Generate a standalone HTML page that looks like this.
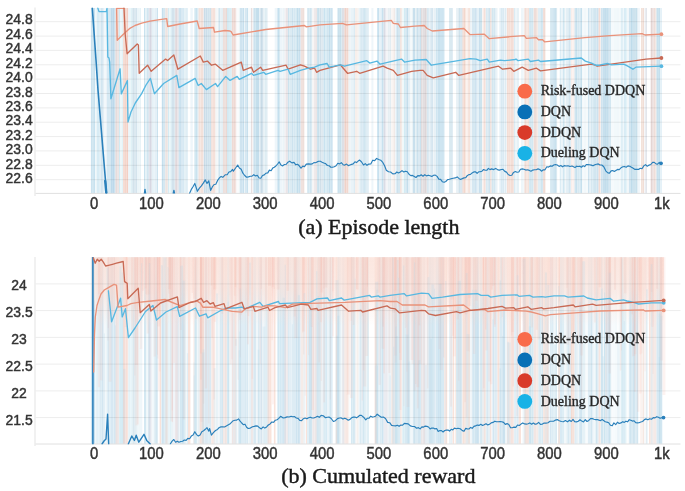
<!DOCTYPE html>
<html><head><meta charset="utf-8"><style>
html,body{margin:0;padding:0;background:#fff;}
body{width:685px;height:491px;overflow:hidden;font-family:"Liberation Sans",sans-serif;}
svg{display:block;filter:blur(0.6px);}
</style></head><body>
<svg width="685" height="491" viewBox="0 0 685 491"><defs><filter id="sb" x="0" y="0" width="1" height="1"><feGaussianBlur stdDeviation="0.6 0"/></filter><clipPath id="ct"><rect x="35" y="7.5" width="646" height="186"/></clipPath><linearGradient id="pg" x1="0" y1="0" x2="0" y2="1"><stop offset="0" stop-color="#fbe1d8" stop-opacity="0.8"/><stop offset="0.45" stop-color="#fbe1d8" stop-opacity="0.65"/><stop offset="1" stop-color="#fbdfd5" stop-opacity="0"/></linearGradient><clipPath id="cb"><rect x="35" y="257" width="646" height="187.5"/></clipPath></defs><g id="topstripes" filter="url(#sb)"><rect x="90.90" y="8" width="1.60" height="185.4" fill="#cbe3ef"/>
<rect x="92.50" y="8" width="1.20" height="185.4" fill="#c3dfed"/>
<rect x="93.70" y="8" width="1.30" height="185.4" fill="#c8e2ef"/>
<rect x="95.00" y="8" width="1.60" height="185.4" fill="#f1f8fb"/>
<rect x="96.60" y="8" width="2.40" height="185.4" fill="#d8ecf5"/>
<rect x="99.00" y="8" width="0.70" height="185.4" fill="#d1e9f4"/>
<rect x="99.70" y="8" width="1.20" height="185.4" fill="#e1eef6"/>
<rect x="100.90" y="8" width="1.20" height="185.4" fill="#d2e6f1"/>
<rect x="102.10" y="8" width="1.60" height="185.4" fill="#d3e6f1"/>
<rect x="103.80" y="8" width="1.60" height="185.4" fill="#f2f8fb"/>
<rect x="105.40" y="8" width="1.30" height="185.4" fill="#eff6fa"/>
<rect x="106.70" y="8" width="2.40" height="185.4" fill="#d6e9f3"/>
<rect x="109.10" y="8" width="1.90" height="185.4" fill="#d4e7f2"/>
<rect x="111.00" y="8" width="1.20" height="185.4" fill="#bedaeb"/>
<rect x="112.20" y="8" width="2.00" height="185.4" fill="#bcd9eb"/>
<rect x="114.20" y="8" width="1.30" height="185.4" fill="#c6dfee"/>
<rect x="115.50" y="8" width="1.60" height="185.4" fill="#e7dcdc"/>
<rect x="117.10" y="8" width="1.90" height="185.4" fill="#ece4e4"/>
<rect x="119.00" y="8" width="1.20" height="185.4" fill="#d2ebf3"/>
<rect x="120.20" y="8" width="2.40" height="185.4" fill="#ecf7fa"/>
<rect x="122.60" y="8" width="0.40" height="185.4" fill="#cae8f1"/>
<rect x="123.00" y="8" width="1.20" height="185.4" fill="#f6ddd5"/>
<rect x="124.20" y="8" width="2.40" height="185.4" fill="#f4d6cc"/>
<rect x="126.60" y="8" width="1.70" height="185.4" fill="#f3d0c5"/>
<rect x="128.30" y="8" width="2.40" height="185.4" fill="#ecf6fa"/>
<rect x="130.70" y="8" width="1.20" height="185.4" fill="#ddf0f6"/>
<rect x="131.90" y="8" width="0.50" height="185.4" fill="#d6edf4"/>
<rect x="132.40" y="8" width="2.00" height="185.4" fill="#d3e3ec"/>
<rect x="134.40" y="8" width="1.20" height="185.4" fill="#d1e2ec"/>
<rect x="135.60" y="8" width="1.40" height="185.4" fill="#d4e4ed"/>
<rect x="137.00" y="8" width="2.40" height="185.4" fill="#ecf5f9"/>
<rect x="139.40" y="8" width="1.60" height="185.4" fill="#e8f3f7"/>
<rect x="144.00" y="8" width="1.20" height="185.4" fill="#cae3ef"/>
<rect x="145.20" y="8" width="2.00" height="185.4" fill="#e4f1f7"/>
<rect x="147.20" y="8" width="1.50" height="185.4" fill="#cae3ef"/>
<rect x="148.70" y="8" width="1.20" height="185.4" fill="#e2e2ea"/>
<rect x="149.90" y="8" width="1.80" height="185.4" fill="#d7d7e2"/>
<rect x="151.70" y="8" width="1.20" height="185.4" fill="#e1eff6"/>
<rect x="152.90" y="8" width="2.00" height="185.4" fill="#e9f3f8"/>
<rect x="154.90" y="8" width="2.00" height="185.4" fill="#e4f0f7"/>
<rect x="156.90" y="8" width="1.10" height="185.4" fill="#cce3ef"/>
<rect x="161.80" y="8" width="1.20" height="185.4" fill="#c5dfed"/>
<rect x="163.00" y="8" width="2.30" height="185.4" fill="#d5e8f2"/>
<rect x="165.30" y="8" width="2.00" height="185.4" fill="#ede4e2"/>
<rect x="167.30" y="8" width="0.90" height="185.4" fill="#eee5e3"/>
<rect x="168.20" y="8" width="1.20" height="185.4" fill="#cee9f2"/>
<rect x="169.40" y="8" width="1.20" height="185.4" fill="#eff8fb"/>
<rect x="170.60" y="8" width="1.10" height="185.4" fill="#d4ecf4"/>
<rect x="171.70" y="8" width="2.40" height="185.4" fill="#d3e3ed"/>
<rect x="174.10" y="8" width="1.10" height="185.4" fill="#dbe8f0"/>
<rect x="175.20" y="8" width="2.40" height="185.4" fill="#e1d9dd"/>
<rect x="177.60" y="8" width="1.10" height="185.4" fill="#eae4e7"/>
<rect x="178.70" y="8" width="1.20" height="185.4" fill="#c8e1ef"/>
<rect x="179.90" y="8" width="1.60" height="185.4" fill="#cbe2ef"/>
<rect x="181.50" y="8" width="1.20" height="185.4" fill="#cee4f0"/>
<rect x="182.70" y="8" width="1.60" height="185.4" fill="#d7e9f3"/>
<rect x="184.30" y="8" width="0.20" height="185.4" fill="#d4e7f2"/>
<rect x="184.50" y="8" width="1.20" height="185.4" fill="#ddedf4"/>
<rect x="185.70" y="8" width="1.60" height="185.4" fill="#e0eef5"/>
<rect x="187.30" y="8" width="0.70" height="185.4" fill="#dfeef5"/>
<rect x="190.40" y="8" width="2.40" height="185.4" fill="#eef6fa"/>
<rect x="194.50" y="8" width="1.20" height="185.4" fill="#c6e1ee"/>
<rect x="195.70" y="8" width="1.60" height="185.4" fill="#cae3ef"/>
<rect x="197.30" y="8" width="1.20" height="185.4" fill="#d5e8f2"/>
<rect x="198.60" y="8" width="2.00" height="185.4" fill="#f4e3dd"/>
<rect x="200.60" y="8" width="2.40" height="185.4" fill="#f3e1da"/>
<rect x="203.00" y="8" width="0.80" height="185.4" fill="#f8edea"/>
<rect x="203.80" y="8" width="1.60" height="185.4" fill="#cadde9"/>
<rect x="205.40" y="8" width="1.90" height="185.4" fill="#ccdeea"/>
<rect x="207.30" y="8" width="2.00" height="185.4" fill="#d1e3ed"/>
<rect x="209.30" y="8" width="2.10" height="185.4" fill="#cfe2ec"/>
<rect x="211.40" y="8" width="1.20" height="185.4" fill="#f3d9d0"/>
<rect x="212.60" y="8" width="2.40" height="185.4" fill="#f5e1da"/>
<rect x="215.00" y="8" width="0.50" height="185.4" fill="#f3d9d0"/>
<rect x="215.50" y="8" width="2.40" height="185.4" fill="#f3f7f8"/>
<rect x="217.90" y="8" width="0.50" height="185.4" fill="#f7f9fa"/>
<rect x="218.40" y="8" width="2.00" height="185.4" fill="#d1e5ef"/>
<rect x="220.40" y="8" width="2.40" height="185.4" fill="#e6f1f6"/>
<rect x="222.80" y="8" width="0.30" height="185.4" fill="#c6dfeb"/>
<rect x="223.10" y="8" width="1.20" height="185.4" fill="#ecdcd9"/>
<rect x="224.30" y="8" width="1.20" height="185.4" fill="#ead9d5"/>
<rect x="225.50" y="8" width="1.70" height="185.4" fill="#ead9d5"/>
<rect x="227.20" y="8" width="1.60" height="185.4" fill="#cbe7f2"/>
<rect x="228.80" y="8" width="2.40" height="185.4" fill="#daeef6"/>
<rect x="231.20" y="8" width="0.60" height="185.4" fill="#d3ebf4"/>
<rect x="231.80" y="8" width="2.00" height="185.4" fill="#efdad5"/>
<rect x="233.80" y="8" width="1.20" height="185.4" fill="#eed9d4"/>
<rect x="235.00" y="8" width="1.50" height="185.4" fill="#f3e3df"/>
<rect x="236.50" y="8" width="2.40" height="185.4" fill="#fafcfd"/>
<rect x="238.90" y="8" width="1.10" height="185.4" fill="#edf6f8"/>
<rect x="240.00" y="8" width="2.40" height="185.4" fill="#cfe4f0"/>
<rect x="242.40" y="8" width="1.60" height="185.4" fill="#c7e0ee"/>
<rect x="244.00" y="8" width="1.20" height="185.4" fill="#ecf5f9"/>
<rect x="245.20" y="8" width="1.20" height="185.4" fill="#cfe4f0"/>
<rect x="246.40" y="8" width="1.60" height="185.4" fill="#c9e1ee"/>
<rect x="248.00" y="8" width="0.20" height="185.4" fill="#c4deed"/>
<rect x="248.20" y="8" width="2.00" height="185.4" fill="#f7fbfc"/>
<rect x="250.20" y="8" width="0.90" height="185.4" fill="#f5fafc"/>
<rect x="251.10" y="8" width="1.20" height="185.4" fill="#e6dcdc"/>
<rect x="252.30" y="8" width="1.10" height="185.4" fill="#f7f3f3"/>
<rect x="253.40" y="8" width="2.00" height="185.4" fill="#cde3ef"/>
<rect x="255.40" y="8" width="1.60" height="185.4" fill="#c5dfec"/>
<rect x="257.00" y="8" width="2.00" height="185.4" fill="#c4deec"/>
<rect x="259.00" y="8" width="1.40" height="185.4" fill="#e6f1f7"/>
<rect x="260.40" y="8" width="2.00" height="185.4" fill="#c8dbe7"/>
<rect x="262.40" y="8" width="1.00" height="185.4" fill="#c4d8e6"/>
<rect x="263.40" y="8" width="1.20" height="185.4" fill="#e6f1f6"/>
<rect x="264.60" y="8" width="1.60" height="185.4" fill="#deedf3"/>
<rect x="266.20" y="8" width="1.30" height="185.4" fill="#ddecf3"/>
<rect x="274.70" y="8" width="2.40" height="185.4" fill="#eef6fa"/>
<rect x="277.10" y="8" width="0.30" height="185.4" fill="#eef6fa"/>
<rect x="277.40" y="8" width="2.40" height="185.4" fill="#c5e0ee"/>
<rect x="279.80" y="8" width="2.40" height="185.4" fill="#edf5fa"/>
<rect x="282.20" y="8" width="1.60" height="185.4" fill="#f0f7fb"/>
<rect x="283.80" y="8" width="0.60" height="185.4" fill="#cde5f1"/>
<rect x="284.40" y="8" width="1.20" height="185.4" fill="#f4f2f3"/>
<rect x="285.60" y="8" width="2.30" height="185.4" fill="#eae5e8"/>
<rect x="287.90" y="8" width="1.60" height="185.4" fill="#cde3ee"/>
<rect x="289.50" y="8" width="1.90" height="185.4" fill="#dbebf3"/>
<rect x="291.40" y="8" width="2.00" height="185.4" fill="#cde3ef"/>
<rect x="293.40" y="8" width="2.00" height="185.4" fill="#d6e8f2"/>
<rect x="295.40" y="8" width="1.20" height="185.4" fill="#d1e6f1"/>
<rect x="296.60" y="8" width="2.00" height="185.4" fill="#c3deec"/>
<rect x="298.60" y="8" width="1.60" height="185.4" fill="#c7e0ee"/>
<rect x="300.20" y="8" width="0.50" height="185.4" fill="#c4deed"/>
<rect x="300.70" y="8" width="2.40" height="185.4" fill="#f0e1dd"/>
<rect x="303.10" y="8" width="1.20" height="185.4" fill="#eddcd6"/>
<rect x="307.20" y="8" width="2.40" height="185.4" fill="#d3e7f1"/>
<rect x="309.60" y="8" width="1.60" height="185.4" fill="#d0e5f0"/>
<rect x="311.20" y="8" width="1.20" height="185.4" fill="#d5e8f2"/>
<rect x="312.40" y="8" width="2.00" height="185.4" fill="#f8f5f5"/>
<rect x="314.40" y="8" width="1.20" height="185.4" fill="#e7dedf"/>
<rect x="315.60" y="8" width="1.50" height="185.4" fill="#ece5e6"/>
<rect x="317.10" y="8" width="2.40" height="185.4" fill="#c9e1ed"/>
<rect x="319.50" y="8" width="0.50" height="185.4" fill="#d2e6f0"/>
<rect x="320.00" y="8" width="1.60" height="185.4" fill="#d1e0ea"/>
<rect x="321.60" y="8" width="1.90" height="185.4" fill="#dfe9f0"/>
<rect x="323.50" y="8" width="2.00" height="185.4" fill="#c9e3f0"/>
<rect x="325.50" y="8" width="1.20" height="185.4" fill="#d8ebf4"/>
<rect x="326.70" y="8" width="0.30" height="185.4" fill="#c5e0ee"/>
<rect x="327.00" y="8" width="1.60" height="185.4" fill="#d3e6f1"/>
<rect x="328.60" y="8" width="2.00" height="185.4" fill="#c3deec"/>
<rect x="330.60" y="8" width="2.00" height="185.4" fill="#cde3f0"/>
<rect x="332.60" y="8" width="0.30" height="185.4" fill="#d2e6f1"/>
<rect x="337.50" y="8" width="2.40" height="185.4" fill="#cae1ed"/>
<rect x="339.90" y="8" width="1.20" height="185.4" fill="#c8e0ec"/>
<rect x="341.10" y="8" width="1.10" height="185.4" fill="#d9eaf2"/>
<rect x="342.20" y="8" width="1.60" height="185.4" fill="#d7d9e0"/>
<rect x="343.80" y="8" width="0.70" height="185.4" fill="#dddee4"/>
<rect x="344.50" y="8" width="2.00" height="185.4" fill="#f0d2c8"/>
<rect x="346.50" y="8" width="2.10" height="185.4" fill="#f2d8cf"/>
<rect x="348.60" y="8" width="2.00" height="185.4" fill="#eef4f7"/>
<rect x="350.60" y="8" width="0.40" height="185.4" fill="#e8f0f4"/>
<rect x="351.00" y="8" width="2.40" height="185.4" fill="#e9f3f8"/>
<rect x="353.40" y="8" width="1.60" height="185.4" fill="#dcecf4"/>
<rect x="355.00" y="8" width="2.40" height="185.4" fill="#f7efeb"/>
<rect x="357.40" y="8" width="1.20" height="185.4" fill="#f6ede9"/>
<rect x="358.60" y="8" width="1.60" height="185.4" fill="#e9f3f8"/>
<rect x="360.20" y="8" width="2.40" height="185.4" fill="#d9eaf3"/>
<rect x="362.60" y="8" width="1.20" height="185.4" fill="#cfe4f0"/>
<rect x="363.80" y="8" width="2.00" height="185.4" fill="#d1e6f1"/>
<rect x="365.80" y="8" width="0.90" height="185.4" fill="#d2e6f1"/>
<rect x="366.70" y="8" width="2.00" height="185.4" fill="#e1eef5"/>
<rect x="368.70" y="8" width="0.30" height="185.4" fill="#d9eaf3"/>
<rect x="371.40" y="8" width="2.00" height="185.4" fill="#eef6fa"/>
<rect x="377.20" y="8" width="2.00" height="185.4" fill="#c8e1ef"/>
<rect x="379.20" y="8" width="2.40" height="185.4" fill="#e7f2f8"/>
<rect x="381.60" y="8" width="1.60" height="185.4" fill="#c8e1ef"/>
<rect x="383.20" y="8" width="0.50" height="185.4" fill="#c5e0ee"/>
<rect x="383.70" y="8" width="2.00" height="185.4" fill="#dbdce5"/>
<rect x="385.70" y="8" width="2.00" height="185.4" fill="#f4f4f7"/>
<rect x="387.80" y="8" width="2.00" height="185.4" fill="#e7eff3"/>
<rect x="389.80" y="8" width="1.20" height="185.4" fill="#e3edf2"/>
<rect x="391.00" y="8" width="0.30" height="185.4" fill="#e5eef3"/>
<rect x="391.30" y="8" width="2.40" height="185.4" fill="#f9f4f2"/>
<rect x="393.70" y="8" width="1.10" height="185.4" fill="#efe3de"/>
<rect x="394.80" y="8" width="1.60" height="185.4" fill="#f0f6fa"/>
<rect x="396.40" y="8" width="2.40" height="185.4" fill="#cce2ee"/>
<rect x="398.80" y="8" width="1.20" height="185.4" fill="#d6e8f1"/>
<rect x="400.00" y="8" width="1.60" height="185.4" fill="#f2e4df"/>
<rect x="401.60" y="8" width="0.70" height="185.4" fill="#f0e0db"/>
<rect x="402.30" y="8" width="1.60" height="185.4" fill="#f0f9fb"/>
<rect x="403.90" y="8" width="1.40" height="185.4" fill="#d3ecf4"/>
<rect x="405.30" y="8" width="1.20" height="185.4" fill="#d2e6f0"/>
<rect x="406.50" y="8" width="2.00" height="185.4" fill="#c4deec"/>
<rect x="408.50" y="8" width="2.00" height="185.4" fill="#e6f1f7"/>
<rect x="410.50" y="8" width="1.20" height="185.4" fill="#f8fbfc"/>
<rect x="411.70" y="8" width="1.20" height="185.4" fill="#ebf3f7"/>
<rect x="412.90" y="8" width="2.40" height="185.4" fill="#c9e0ed"/>
<rect x="415.30" y="8" width="1.20" height="185.4" fill="#e6f1f6"/>
<rect x="416.50" y="8" width="1.60" height="185.4" fill="#cce2ee"/>
<rect x="418.10" y="8" width="1.60" height="185.4" fill="#d7e8f1"/>
<rect x="419.70" y="8" width="1.30" height="185.4" fill="#cce2ed"/>
<rect x="421.00" y="8" width="1.60" height="185.4" fill="#e2dcde"/>
<rect x="422.60" y="8" width="2.40" height="185.4" fill="#e3dee0"/>
<rect x="425.00" y="8" width="1.20" height="185.4" fill="#ddd6d8"/>
<rect x="426.20" y="8" width="0.70" height="185.4" fill="#e0dadc"/>
<rect x="426.90" y="8" width="2.00" height="185.4" fill="#d8e8f1"/>
<rect x="428.90" y="8" width="1.60" height="185.4" fill="#e9f2f7"/>
<rect x="430.50" y="8" width="1.20" height="185.4" fill="#d0e3ee"/>
<rect x="431.70" y="8" width="1.20" height="185.4" fill="#cee2ed"/>
<rect x="432.90" y="8" width="1.00" height="185.4" fill="#eff5f9"/>
<rect x="433.90" y="8" width="1.20" height="185.4" fill="#e8f1f6"/>
<rect x="435.10" y="8" width="0.50" height="185.4" fill="#f4f8fb"/>
<rect x="435.60" y="8" width="2.00" height="185.4" fill="#d0e6f1"/>
<rect x="437.60" y="8" width="2.40" height="185.4" fill="#c9e2ef"/>
<rect x="440.00" y="8" width="2.00" height="185.4" fill="#cee5f1"/>
<rect x="442.00" y="8" width="1.20" height="185.4" fill="#cde4f1"/>
<rect x="443.20" y="8" width="1.20" height="185.4" fill="#c8e2ef"/>
<rect x="449.10" y="8" width="1.20" height="185.4" fill="#d9e9f1"/>
<rect x="450.30" y="8" width="1.20" height="185.4" fill="#d1e4ee"/>
<rect x="451.50" y="8" width="1.10" height="185.4" fill="#cee2ed"/>
<rect x="456.10" y="8" width="2.40" height="185.4" fill="#e8f1f6"/>
<rect x="458.50" y="8" width="1.60" height="185.4" fill="#cfe2ec"/>
<rect x="460.10" y="8" width="1.60" height="185.4" fill="#d7e6ef"/>
<rect x="461.70" y="8" width="0.80" height="185.4" fill="#c5dbe7"/>
<rect x="462.50" y="8" width="1.20" height="185.4" fill="#f4dad0"/>
<rect x="463.70" y="8" width="2.00" height="185.4" fill="#f3d7cc"/>
<rect x="465.70" y="8" width="2.00" height="185.4" fill="#fbf3f0"/>
<rect x="467.70" y="8" width="1.20" height="185.4" fill="#f6e3db"/>
<rect x="468.90" y="8" width="1.20" height="185.4" fill="#f6e3db"/>
<rect x="470.10" y="8" width="1.60" height="185.4" fill="#eaf1f5"/>
<rect x="471.70" y="8" width="0.70" height="185.4" fill="#eff5f8"/>
<rect x="472.40" y="8" width="1.20" height="185.4" fill="#bfdbeb"/>
<rect x="473.60" y="8" width="1.20" height="185.4" fill="#d1e5f1"/>
<rect x="474.80" y="8" width="2.00" height="185.4" fill="#cee3f0"/>
<rect x="476.80" y="8" width="2.40" height="185.4" fill="#e5f1f7"/>
<rect x="479.20" y="8" width="0.80" height="185.4" fill="#bddaea"/>
<rect x="480.00" y="8" width="2.00" height="185.4" fill="#cee4ee"/>
<rect x="482.00" y="8" width="0.30" height="185.4" fill="#cce3ee"/>
<rect x="482.30" y="8" width="1.20" height="185.4" fill="#fbf4f1"/>
<rect x="483.50" y="8" width="2.00" height="185.4" fill="#f5e0d9"/>
<rect x="485.50" y="8" width="0.30" height="185.4" fill="#f6e3dd"/>
<rect x="485.80" y="8" width="2.00" height="185.4" fill="#d9eaf2"/>
<rect x="487.80" y="8" width="1.20" height="185.4" fill="#d9e9f2"/>
<rect x="489.00" y="8" width="0.90" height="185.4" fill="#c6dfec"/>
<rect x="489.90" y="8" width="1.80" height="185.4" fill="#f3e4df"/>
<rect x="491.70" y="8" width="2.00" height="185.4" fill="#d3e7f0"/>
<rect x="493.70" y="8" width="2.00" height="185.4" fill="#d4e7f1"/>
<rect x="495.70" y="8" width="1.80" height="185.4" fill="#eaf3f8"/>
<rect x="499.10" y="8" width="1.20" height="185.4" fill="#eef6fa"/>
<rect x="500.40" y="8" width="2.40" height="185.4" fill="#d9eaf3"/>
<rect x="502.80" y="8" width="1.20" height="185.4" fill="#daeaf3"/>
<rect x="504.00" y="8" width="1.20" height="185.4" fill="#ecf4f9"/>
<rect x="505.20" y="8" width="1.20" height="185.4" fill="#d7e9f2"/>
<rect x="506.40" y="8" width="0.50" height="185.4" fill="#eff6fa"/>
<rect x="506.90" y="8" width="1.20" height="185.4" fill="#f4ded6"/>
<rect x="508.10" y="8" width="2.40" height="185.4" fill="#f5e0d8"/>
<rect x="510.50" y="8" width="1.60" height="185.4" fill="#f4ded6"/>
<rect x="512.10" y="8" width="1.60" height="185.4" fill="#f3dbd3"/>
<rect x="513.90" y="8" width="1.60" height="185.4" fill="#dcecf4"/>
<rect x="515.50" y="8" width="2.00" height="185.4" fill="#eef6fa"/>
<rect x="517.50" y="8" width="1.10" height="185.4" fill="#d7e9f2"/>
<rect x="521.00" y="8" width="2.40" height="185.4" fill="#eef6fa"/>
<rect x="523.40" y="8" width="1.00" height="185.4" fill="#eef6fa"/>
<rect x="524.40" y="8" width="2.00" height="185.4" fill="#f2ded7"/>
<rect x="526.40" y="8" width="1.20" height="185.4" fill="#f3e0d9"/>
<rect x="527.60" y="8" width="1.50" height="185.4" fill="#f4e3dc"/>
<rect x="529.10" y="8" width="2.00" height="185.4" fill="#d3e7f1"/>
<rect x="531.10" y="8" width="2.40" height="185.4" fill="#d4e8f2"/>
<rect x="533.70" y="8" width="2.40" height="185.4" fill="#efddd8"/>
<rect x="536.10" y="8" width="1.60" height="185.4" fill="#f0e1dc"/>
<rect x="537.70" y="8" width="0.70" height="185.4" fill="#f8f1ef"/>
<rect x="538.40" y="8" width="1.20" height="185.4" fill="#d0e5f0"/>
<rect x="539.60" y="8" width="1.20" height="185.4" fill="#daebf4"/>
<rect x="540.80" y="8" width="1.20" height="185.4" fill="#d0e6f0"/>
<rect x="542.00" y="8" width="1.10" height="185.4" fill="#d5e8f2"/>
<rect x="543.10" y="8" width="2.00" height="185.4" fill="#f1dcd5"/>
<rect x="545.10" y="8" width="0.30" height="185.4" fill="#f0dcd4"/>
<rect x="550.10" y="8" width="2.00" height="185.4" fill="#d6e9f2"/>
<rect x="552.10" y="8" width="2.00" height="185.4" fill="#d2e6f1"/>
<rect x="554.10" y="8" width="2.40" height="185.4" fill="#c9e1ee"/>
<rect x="556.50" y="8" width="0.60" height="185.4" fill="#d1e6f0"/>
<rect x="559.50" y="8" width="0.50" height="185.4" fill="#eef6fa"/>
<rect x="560.00" y="8" width="1.60" height="185.4" fill="#dcedf5"/>
<rect x="561.60" y="8" width="1.20" height="185.4" fill="#eff7fa"/>
<rect x="562.80" y="8" width="1.20" height="185.4" fill="#d1e7f2"/>
<rect x="564.00" y="8" width="0.70" height="185.4" fill="#cbe4f0"/>
<rect x="564.70" y="8" width="1.20" height="185.4" fill="#f2f7f9"/>
<rect x="565.90" y="8" width="0.50" height="185.4" fill="#eef5f8"/>
<rect x="566.40" y="8" width="1.20" height="185.4" fill="#d7e8f2"/>
<rect x="567.60" y="8" width="1.20" height="185.4" fill="#dcebf3"/>
<rect x="568.80" y="8" width="1.60" height="185.4" fill="#d2e5f0"/>
<rect x="570.40" y="8" width="0.70" height="185.4" fill="#d8e9f2"/>
<rect x="571.10" y="8" width="1.20" height="185.4" fill="#f9ede9"/>
<rect x="572.30" y="8" width="2.30" height="185.4" fill="#fbf1ee"/>
<rect x="574.60" y="8" width="1.20" height="185.4" fill="#c7e0ee"/>
<rect x="575.80" y="8" width="1.60" height="185.4" fill="#c8e1ee"/>
<rect x="577.40" y="8" width="2.00" height="185.4" fill="#d7e9f2"/>
<rect x="579.40" y="8" width="1.60" height="185.4" fill="#d5e8f2"/>
<rect x="581.00" y="8" width="1.20" height="185.4" fill="#c6e0ed"/>
<rect x="582.20" y="8" width="2.00" height="185.4" fill="#f6fafc"/>
<rect x="584.20" y="8" width="2.00" height="185.4" fill="#f1f8fb"/>
<rect x="586.20" y="8" width="1.80" height="185.4" fill="#f5fafc"/>
<rect x="588.00" y="8" width="1.60" height="185.4" fill="#cee3ef"/>
<rect x="589.60" y="8" width="1.60" height="185.4" fill="#e6f1f7"/>
<rect x="591.20" y="8" width="1.20" height="185.4" fill="#cee4ef"/>
<rect x="592.40" y="8" width="1.60" height="185.4" fill="#d7e9f2"/>
<rect x="594.00" y="8" width="2.40" height="185.4" fill="#d2e6f0"/>
<rect x="596.40" y="8" width="1.60" height="185.4" fill="#cee3ef"/>
<rect x="598.00" y="8" width="0.60" height="185.4" fill="#cae1ee"/>
<rect x="598.60" y="8" width="1.60" height="185.4" fill="#f4dcd5"/>
<rect x="600.20" y="8" width="0.70" height="185.4" fill="#f9ede9"/>
<rect x="600.90" y="8" width="1.60" height="185.4" fill="#cfe4f0"/>
<rect x="602.50" y="8" width="1.60" height="185.4" fill="#c7e0ee"/>
<rect x="604.10" y="8" width="2.00" height="185.4" fill="#c3ddec"/>
<rect x="606.10" y="8" width="2.00" height="185.4" fill="#c5dfed"/>
<rect x="608.10" y="8" width="1.20" height="185.4" fill="#cde3ef"/>
<rect x="609.30" y="8" width="1.60" height="185.4" fill="#cde3ef"/>
<rect x="610.90" y="8" width="0.50" height="185.4" fill="#e3eff6"/>
<rect x="611.40" y="8" width="2.00" height="185.4" fill="#f5fafc"/>
<rect x="613.40" y="8" width="1.60" height="185.4" fill="#f2f9fb"/>
<rect x="615.00" y="8" width="2.00" height="185.4" fill="#f2f9fb"/>
<rect x="617.00" y="8" width="2.40" height="185.4" fill="#f1f8fb"/>
<rect x="619.40" y="8" width="1.30" height="185.4" fill="#f2f8fb"/>
<rect x="620.70" y="8" width="0.80" height="185.4" fill="#e9f3f8"/>
<rect x="621.50" y="8" width="1.20" height="185.4" fill="#cae6f1"/>
<rect x="622.70" y="8" width="1.20" height="185.4" fill="#f0f8fb"/>
<rect x="623.90" y="8" width="2.00" height="185.4" fill="#d8ecf5"/>
<rect x="625.90" y="8" width="0.70" height="185.4" fill="#c6e4f0"/>
<rect x="626.60" y="8" width="1.20" height="185.4" fill="#f1f7f9"/>
<rect x="627.80" y="8" width="1.20" height="185.4" fill="#f0f6f9"/>
<rect x="629.10" y="8" width="1.60" height="185.4" fill="#cbe2ef"/>
<rect x="630.70" y="8" width="2.10" height="185.4" fill="#bfdceb"/>
<rect x="632.80" y="8" width="2.40" height="185.4" fill="#cee3ee"/>
<rect x="635.20" y="8" width="2.40" height="185.4" fill="#c8e0ec"/>
<rect x="637.60" y="8" width="0.60" height="185.4" fill="#eaf3f8"/>
<rect x="638.20" y="8" width="1.60" height="185.4" fill="#eef6fa"/>
<rect x="641.20" y="8" width="1.20" height="185.4" fill="#f0dbd2"/>
<rect x="642.40" y="8" width="1.70" height="185.4" fill="#f1ded6"/>
<rect x="644.10" y="8" width="1.20" height="185.4" fill="#f6f7f9"/>
<rect x="645.30" y="8" width="1.70" height="185.4" fill="#e3e6ec"/>
<rect x="650.70" y="8" width="1.60" height="185.4" fill="#e4d5d3"/>
<rect x="652.30" y="8" width="1.30" height="185.4" fill="#e8dbda"/>
<rect x="653.60" y="8" width="2.00" height="185.4" fill="#efded9"/>
<rect x="655.60" y="8" width="0.90" height="185.4" fill="#f2e5e1"/>
<rect x="656.50" y="8" width="2.40" height="185.4" fill="#c8e1ee"/>
<rect x="658.90" y="8" width="1.60" height="185.4" fill="#c5dfed"/>
<rect x="660.50" y="8" width="1.20" height="185.4" fill="#edf5f9"/>
<rect x="661.70" y="8" width="0.30" height="185.4" fill="#c7e1ee"/></g><line x1="35" y1="21.7" x2="680.5" y2="21.7" stroke="rgba(0,0,0,0.075)" stroke-width="1"/>
<line x1="35" y1="36.1" x2="680.5" y2="36.1" stroke="rgba(0,0,0,0.075)" stroke-width="1"/>
<line x1="35" y1="50.4" x2="680.5" y2="50.4" stroke="rgba(0,0,0,0.075)" stroke-width="1"/>
<line x1="35" y1="64.8" x2="680.5" y2="64.8" stroke="rgba(0,0,0,0.075)" stroke-width="1"/>
<line x1="35" y1="79.1" x2="680.5" y2="79.1" stroke="rgba(0,0,0,0.075)" stroke-width="1"/>
<line x1="35" y1="93.5" x2="680.5" y2="93.5" stroke="rgba(0,0,0,0.075)" stroke-width="1"/>
<line x1="35" y1="107.9" x2="680.5" y2="107.9" stroke="rgba(0,0,0,0.075)" stroke-width="1"/>
<line x1="35" y1="122.2" x2="680.5" y2="122.2" stroke="rgba(0,0,0,0.075)" stroke-width="1"/>
<line x1="35" y1="136.6" x2="680.5" y2="136.6" stroke="rgba(0,0,0,0.075)" stroke-width="1"/>
<line x1="35" y1="150.9" x2="680.5" y2="150.9" stroke="rgba(0,0,0,0.075)" stroke-width="1"/>
<line x1="35" y1="165.3" x2="680.5" y2="165.3" stroke="rgba(0,0,0,0.075)" stroke-width="1"/>
<line x1="35" y1="179.7" x2="680.5" y2="179.7" stroke="rgba(0,0,0,0.075)" stroke-width="1"/><line x1="35" y1="193.4" x2="680.5" y2="193.4" stroke="#e0e0e0" stroke-width="1"/><line x1="35" y1="7.5" x2="35" y2="196" stroke="#ececec" stroke-width="1.5"/><g clip-path="url(#ct)"><polyline points="124.0,8.4 116.6,8.4 117.2,40.3 124.7,33.0 129.4,28.7 135.0,25.5 141.7,23.2 150.0,21.2 158.0,19.8 166.7,18.7 167.7,26.5 180.0,24.0 197.2,21.0 199.2,28.5 213.5,27.5 214.5,32.2 225.0,30.5 230.0,31.0 231.1,31.6 233.1,35.0 265.7,29.5 304.4,25.5 306.4,26.9 320.0,24.8 342.4,23.4 346.5,24.8 391.3,20.4 393.3,23.4 398.4,24.0 400.4,27.5 415.0,26.1 424.2,25.5 427.2,28.5 432.3,31.0 463.9,28.5 470.0,34.6 484.3,34.2 489.3,38.7 510.0,36.7 524.3,35.6 526.3,38.3 536.5,37.7 538.5,39.7 542.6,39.7 544.6,41.8 585.0,37.7 610.0,35.6 642.0,33.6 645.0,35.0 661.4,34.2" fill="none" stroke="#e9927a" stroke-width="1.35" stroke-linejoin="round" stroke-linecap="round" opacity="1"/><polyline points="124.0,8.0 125.2,34.2 127.1,53.8 137.2,44.0 138.4,45.0 139.2,73.3 147.6,65.2 151.2,71.3 165.6,59.1 167.6,60.5 173.8,55.0 177.9,69.2 200.3,56.0 203.3,62.1 207.4,61.1 211.5,65.2 215.5,64.2 222.7,70.3 230.0,67.2 241.3,62.1 243.3,70.3 251.5,67.2 253.5,72.3 260.6,67.2 262.7,70.3 286.1,65.2 288.1,69.2 300.4,64.8 304.4,66.2 310.5,69.2 314.6,68.2 316.6,72.3 320.0,70.3 340.4,64.8 342.4,67.2 347.5,73.3 356.7,71.3 359.7,73.3 383.1,66.2 387.2,68.2 393.3,70.3 397.4,75.4 411.6,71.3 420.0,70.3 423.1,70.3 427.2,75.4 433.3,77.8 455.7,72.3 458.8,75.4 498.5,66.2 502.6,69.2 510.7,68.2 513.8,71.3 522.2,67.2 528.3,70.3 536.5,68.2 540.5,70.9 591.5,64.2 595.0,65.2 597.2,66.2 646.1,59.1 661.4,58.0" fill="none" stroke="#c86a55" stroke-width="1.35" stroke-linejoin="round" stroke-linecap="round" opacity="1"/><polyline points="97.8,8.0 99.0,11.6 106.3,11.6 107.0,8.5 107.8,57.0 109.0,58.0 109.7,62.1 110.9,98.8 120.1,68.8 121.3,93.9 127.4,80.5 128.0,122.0 131.0,112.0 135.3,103.0 141.5,93.9 146.0,85.0 150.4,78.4 154.4,93.7 163.6,83.5 176.8,75.4 178.9,87.6 195.2,78.4 198.2,85.5 201.3,83.5 206.4,89.6 215.5,83.5 217.6,86.6 225.7,76.4 230.1,80.4 237.2,76.4 239.3,79.4 251.5,73.3 253.5,75.4 263.7,72.3 265.7,74.3 278.0,70.3 280.0,71.3 288.1,69.2 290.2,74.3 300.4,70.3 308.5,68.2 314.6,67.2 320.0,64.8 327.1,63.5 329.2,67.2 340.4,64.8 344.4,66.2 366.8,60.7 369.9,63.1 377.0,61.1 380.1,64.2 401.5,59.1 404.5,62.1 415.0,60.1 426.2,59.5 431.3,65.2 470.0,58.7 476.1,59.1 480.2,60.7 487.3,59.1 489.3,62.1 500.5,60.1 504.6,60.7 515.0,59.5 516.1,59.1 518.1,60.7 528.3,59.1 530.4,61.5 538.5,60.1 540.5,61.5 581.3,58.0 585.3,61.1 591.5,63.1 595.5,65.2 599.3,65.2 607.4,63.5 611.5,64.8 623.7,64.2 627.8,66.2 632.9,69.2 635.9,67.2 661.4,66.2" fill="none" stroke="#58b8e1" stroke-width="1.35" stroke-linejoin="round" stroke-linecap="round" opacity="1"/><polyline points="92.3,8.0 96.0,60.0 98.0,90.0 105.6,182.0 106.4,193.0" fill="none" stroke="#2a80bb" stroke-width="1.6" stroke-linejoin="round" stroke-linecap="round" opacity="1"/><polyline points="105.2,181.0 106.3,193.0" fill="none" stroke="#2a80bb" stroke-width="2.4" stroke-linejoin="round" stroke-linecap="round" opacity="1"/><polyline points="144.4,193.5 145.0,189.5 145.6,193.5" fill="none" stroke="#2a80bb" stroke-width="1.4" stroke-linejoin="round" stroke-linecap="round" opacity="1"/><polyline points="173.3,193.5 173.9,190.5 174.5,193.5" fill="none" stroke="#2a80bb" stroke-width="1.4" stroke-linejoin="round" stroke-linecap="round" opacity="1"/><polyline points="189.5,193.4 191.3,189.4 193.0,186.8 194.8,183.4 197.4,191.3 199.4,188.1 201.4,185.9 203.3,183.1 205.3,179.9 207.0,183.4 208.8,180.8 210.6,190.4 212.3,186.9 214.1,184.5 215.8,184.3 217.6,180.4 219.3,178.0 221.1,176.4 222.8,177.3 225.4,174.7 227.2,174.7 228.9,172.0 230.7,171.6 232.5,169.4 233.4,171.2 235.6,168.0 237.7,165.0 239.4,168.0 241.2,169.3 242.9,173.2 244.7,175.5 246.6,177.2 248.5,176.9 250.3,176.2 252.0,176.1 253.8,174.7 255.6,176.0 257.3,175.3 259.1,178.0 260.8,178.2 262.5,175.5 264.3,174.9 266.0,173.2 267.8,172.9 269.4,170.1 271.1,170.7 272.7,168.1 274.3,167.2 275.9,166.0 277.6,164.0 279.2,161.9 280.9,165.0 282.7,165.9 284.4,164.5 286.2,164.3 287.9,162.2 289.7,161.2 291.9,162.9 294.0,162.4 295.8,164.8 297.5,164.3 299.2,165.8 301.0,168.2 302.8,166.1 304.5,166.7 306.3,164.1 308.5,163.9 310.7,164.1 312.3,163.9 313.9,162.6 315.5,162.7 317.1,161.9 318.7,161.3 320.3,161.2 322.1,162.2 323.8,163.0 325.6,163.6 327.4,165.5 329.1,165.8 330.9,167.3 332.6,167.1 334.3,166.8 336.1,165.8 337.8,163.3 339.6,163.9 341.3,162.7 343.1,164.7 344.8,165.1 346.6,164.1 348.3,165.6 350.0,165.0 351.6,164.4 353.2,163.9 354.9,161.8 356.5,162.6 358.1,161.1 359.7,160.1 361.6,162.0 363.5,165.0 365.3,163.6 367.0,165.3 368.8,164.1 370.8,163.9 372.7,160.2 374.7,160.6 376.6,158.4 378.7,159.5 380.7,160.2 382.8,162.4 384.6,165.8 386.3,170.3 388.5,171.8 390.6,172.0 392.8,173.9 395.0,173.8 396.8,172.0 398.5,172.9 400.3,172.0 402.0,170.6 403.8,172.0 405.5,171.2 407.3,171.8 409.0,174.3 410.8,175.6 412.5,175.4 414.3,176.4 416.0,177.5 417.8,175.6 419.5,175.9 421.2,174.8 423.0,176.2 424.8,174.7 426.5,175.9 428.3,175.2 430.0,175.8 431.8,176.4 433.6,175.3 435.3,175.1 437.1,176.4 438.8,179.1 440.6,179.4 442.3,181.7 444.1,182.3 445.8,181.5 447.6,179.6 449.3,179.2 451.1,178.7 453.1,178.2 455.2,177.9 457.2,176.9 458.9,178.4 460.7,179.4 462.3,178.6 464.0,177.9 465.6,177.8 467.2,175.7 468.8,174.6 470.5,174.4 472.1,172.9 473.8,171.9 475.4,171.8 477.1,173.3 478.7,171.8 480.4,171.6 482.0,171.2 483.6,169.5 485.2,170.2 486.8,170.3 488.4,168.4 490.0,169.6 491.6,168.9 493.7,169.6 495.7,168.4 497.8,169.9 499.5,170.1 501.3,169.5 503.0,169.4 504.8,171.4 506.5,172.1 508.2,174.5 510.0,175.5 511.8,175.2 513.5,172.4 515.3,171.5 517.0,172.2 518.8,172.0 520.5,169.2 522.3,168.9 524.0,169.2 525.8,170.1 527.5,169.8 529.3,170.4 531.0,171.2 532.8,170.1 534.5,169.7 536.2,169.7 538.0,168.9 539.8,169.5 541.5,171.2 543.3,169.8 545.0,169.8 546.8,166.8 548.5,167.1 550.3,165.9 552.0,166.3 553.8,165.0 555.5,164.5 557.3,165.0 559.1,166.4 560.8,165.5 562.6,166.8 564.3,165.6 566.0,166.0 568.0,165.8 570.0,166.5 572.0,166.0 575.0,167.6 576.6,166.2 578.2,166.5 579.8,166.2 581.4,167.2 583.1,165.8 584.7,166.6 586.3,164.5 587.9,164.6 589.5,164.7 591.3,165.1 593.0,165.8 594.8,164.7 596.5,164.2 598.3,163.9 600.0,165.0 601.8,165.0 603.8,166.8 605.9,171.1 607.9,172.9 609.5,173.2 611.1,170.9 612.7,170.6 614.3,171.4 615.9,170.4 617.5,169.4 619.2,169.6 621.0,167.8 622.8,166.7 624.5,166.5 626.2,167.2 628.0,165.9 629.8,166.2 631.5,167.3 633.2,168.3 635.0,169.4 636.8,169.2 638.5,169.4 640.3,168.3 642.0,168.7 643.8,165.9 645.5,164.6 647.3,166.2 649.1,165.1 650.8,164.5 652.6,162.4 654.3,162.4 656.0,163.9 657.6,164.1 659.3,162.4 661.0,163.3" fill="none" stroke="#2a80bb" stroke-width="1.15" stroke-linejoin="round" stroke-linecap="round" opacity="1"/></g><circle cx="661.4" cy="34.2" r="1.9" fill="#e9927a"/><circle cx="661.4" cy="58" r="1.9" fill="#c86a55"/><circle cx="661.4" cy="66.2" r="1.9" fill="#58b8e1"/><circle cx="661" cy="163.3" r="1.9" fill="#2a80bb"/><g id="botstripes" filter="url(#sb)"><rect x="90.90" y="257.2" width="1.20" height="186.8" fill="#cde4f0"/>
<rect x="92.10" y="257.2" width="1.60" height="186.8" fill="#d9ebf4"/>
<rect x="93.70" y="257.2" width="1.30" height="186.8" fill="#d0e6f1"/>
<rect x="95.00" y="257.2" width="1.20" height="186.8" fill="#f1f8fb"/>
<rect x="96.20" y="257.2" width="2.40" height="186.8" fill="#e3f2f8"/>
<rect x="98.60" y="257.2" width="1.10" height="186.8" fill="#dff0f7"/>
<rect x="99.70" y="257.2" width="2.00" height="186.8" fill="#dbebf4"/>
<rect x="101.70" y="257.2" width="2.00" height="186.8" fill="#d3e6f1"/>
<rect x="103.80" y="257.2" width="2.40" height="186.8" fill="#f3f8fb"/>
<rect x="106.20" y="257.2" width="0.50" height="186.8" fill="#f4f9fb"/>
<rect x="106.70" y="257.2" width="1.20" height="186.8" fill="#eef6fa"/>
<rect x="107.90" y="257.2" width="2.00" height="186.8" fill="#e0eef6"/>
<rect x="109.90" y="257.2" width="1.10" height="186.8" fill="#e0eef6"/>
<rect x="111.00" y="257.2" width="2.40" height="186.8" fill="#d7e8f3"/>
<rect x="113.40" y="257.2" width="2.00" height="186.8" fill="#d8e9f3"/>
<rect x="115.50" y="257.2" width="2.40" height="186.8" fill="#ebe2e2"/>
<rect x="117.90" y="257.2" width="1.10" height="186.8" fill="#efe8e8"/>
<rect x="119.00" y="257.2" width="2.00" height="186.8" fill="#e2f3f8"/>
<rect x="121.00" y="257.2" width="2.00" height="186.8" fill="#def1f7"/>
<rect x="123.00" y="257.2" width="2.40" height="186.8" fill="#f6ded7"/>
<rect x="125.40" y="257.2" width="2.40" height="186.8" fill="#f7e0d9"/>
<rect x="127.80" y="257.2" width="0.50" height="186.8" fill="#f8e5de"/>
<rect x="128.30" y="257.2" width="2.00" height="186.8" fill="#e4f3f8"/>
<rect x="130.30" y="257.2" width="2.00" height="186.8" fill="#e7f4f9"/>
<rect x="132.40" y="257.2" width="2.40" height="186.8" fill="#dae8ef"/>
<rect x="134.80" y="257.2" width="2.00" height="186.8" fill="#e3eef3"/>
<rect x="137.00" y="257.2" width="1.20" height="186.8" fill="#eef6f9"/>
<rect x="138.20" y="257.2" width="1.20" height="186.8" fill="#eff7fa"/>
<rect x="139.40" y="257.2" width="1.20" height="186.8" fill="#e8f3f7"/>
<rect x="140.60" y="257.2" width="0.40" height="186.8" fill="#edf5f9"/>
<rect x="144.00" y="257.2" width="1.20" height="186.8" fill="#d3e8f2"/>
<rect x="145.20" y="257.2" width="1.20" height="186.8" fill="#cce4f0"/>
<rect x="146.40" y="257.2" width="1.60" height="186.8" fill="#f2f8fb"/>
<rect x="148.00" y="257.2" width="0.70" height="186.8" fill="#cce4f0"/>
<rect x="148.70" y="257.2" width="2.00" height="186.8" fill="#e2e2ea"/>
<rect x="150.70" y="257.2" width="1.00" height="186.8" fill="#e8e8ee"/>
<rect x="151.70" y="257.2" width="1.20" height="186.8" fill="#f2f8fb"/>
<rect x="152.90" y="257.2" width="1.60" height="186.8" fill="#f1f8fb"/>
<rect x="154.50" y="257.2" width="1.20" height="186.8" fill="#d0e5f0"/>
<rect x="155.70" y="257.2" width="2.00" height="186.8" fill="#d3e7f1"/>
<rect x="157.70" y="257.2" width="0.30" height="186.8" fill="#dbecf4"/>
<rect x="159.60" y="257.2" width="1.60" height="186.8" fill="#f9e3db"/>
<rect x="161.80" y="257.2" width="1.20" height="186.8" fill="#d8eaf3"/>
<rect x="163.00" y="257.2" width="1.60" height="186.8" fill="#daeaf3"/>
<rect x="164.60" y="257.2" width="0.70" height="186.8" fill="#f3f9fb"/>
<rect x="165.30" y="257.2" width="2.00" height="186.8" fill="#ece3e0"/>
<rect x="167.30" y="257.2" width="0.90" height="186.8" fill="#efe8e6"/>
<rect x="168.20" y="257.2" width="1.20" height="186.8" fill="#eef7fa"/>
<rect x="169.40" y="257.2" width="2.30" height="186.8" fill="#dff1f7"/>
<rect x="171.70" y="257.2" width="1.20" height="186.8" fill="#e7f0f5"/>
<rect x="172.90" y="257.2" width="2.30" height="186.8" fill="#f0f5f9"/>
<rect x="175.20" y="257.2" width="2.00" height="186.8" fill="#e9e3e6"/>
<rect x="177.20" y="257.2" width="1.20" height="186.8" fill="#e8e2e5"/>
<rect x="178.40" y="257.2" width="0.30" height="186.8" fill="#e8e1e5"/>
<rect x="178.70" y="257.2" width="1.60" height="186.8" fill="#f1f7fb"/>
<rect x="180.30" y="257.2" width="1.20" height="186.8" fill="#d2e7f2"/>
<rect x="181.50" y="257.2" width="2.40" height="186.8" fill="#d7e9f3"/>
<rect x="183.90" y="257.2" width="0.60" height="186.8" fill="#d2e7f2"/>
<rect x="184.50" y="257.2" width="1.60" height="186.8" fill="#e8f3f8"/>
<rect x="186.10" y="257.2" width="1.20" height="186.8" fill="#f4f9fb"/>
<rect x="187.30" y="257.2" width="0.70" height="186.8" fill="#eaf4f8"/>
<rect x="188.00" y="257.2" width="2.40" height="186.8" fill="#f9e3db"/>
<rect x="193.60" y="257.2" width="0.90" height="186.8" fill="#f9e3db"/>
<rect x="194.50" y="257.2" width="2.40" height="186.8" fill="#d2e7f1"/>
<rect x="196.90" y="257.2" width="1.20" height="186.8" fill="#f0f7fa"/>
<rect x="198.10" y="257.2" width="0.50" height="186.8" fill="#d3e8f2"/>
<rect x="198.60" y="257.2" width="1.20" height="186.8" fill="#faf2f0"/>
<rect x="199.80" y="257.2" width="1.20" height="186.8" fill="#f3e1db"/>
<rect x="201.00" y="257.2" width="1.20" height="186.8" fill="#f5e5e0"/>
<rect x="202.20" y="257.2" width="1.60" height="186.8" fill="#f2e0d9"/>
<rect x="203.80" y="257.2" width="1.20" height="186.8" fill="#f0f5f9"/>
<rect x="205.00" y="257.2" width="2.00" height="186.8" fill="#dce8f1"/>
<rect x="207.00" y="257.2" width="0.30" height="186.8" fill="#d1e2ed"/>
<rect x="207.30" y="257.2" width="1.20" height="186.8" fill="#e2edf4"/>
<rect x="208.50" y="257.2" width="2.00" height="186.8" fill="#f0f6f9"/>
<rect x="210.50" y="257.2" width="0.90" height="186.8" fill="#dfebf3"/>
<rect x="211.40" y="257.2" width="2.40" height="186.8" fill="#f8e8e3"/>
<rect x="213.80" y="257.2" width="1.70" height="186.8" fill="#fbf4f1"/>
<rect x="215.50" y="257.2" width="2.40" height="186.8" fill="#f8fafb"/>
<rect x="217.90" y="257.2" width="0.50" height="186.8" fill="#f7fafb"/>
<rect x="218.40" y="257.2" width="1.20" height="186.8" fill="#f0f6fa"/>
<rect x="219.60" y="257.2" width="2.40" height="186.8" fill="#e1eef5"/>
<rect x="222.00" y="257.2" width="1.10" height="186.8" fill="#d4e7f0"/>
<rect x="223.10" y="257.2" width="1.60" height="186.8" fill="#f2e7e5"/>
<rect x="224.70" y="257.2" width="2.00" height="186.8" fill="#f0e4e1"/>
<rect x="226.70" y="257.2" width="0.50" height="186.8" fill="#eee1de"/>
<rect x="227.20" y="257.2" width="2.40" height="186.8" fill="#d6ecf4"/>
<rect x="229.60" y="257.2" width="2.00" height="186.8" fill="#f4fafc"/>
<rect x="231.60" y="257.2" width="0.20" height="186.8" fill="#daeef6"/>
<rect x="231.80" y="257.2" width="1.60" height="186.8" fill="#f4e6e3"/>
<rect x="233.40" y="257.2" width="2.40" height="186.8" fill="#f6ebe8"/>
<rect x="235.80" y="257.2" width="0.70" height="186.8" fill="#f4e7e3"/>
<rect x="236.50" y="257.2" width="2.40" height="186.8" fill="#f4f9fb"/>
<rect x="238.90" y="257.2" width="1.10" height="186.8" fill="#f4f9fb"/>
<rect x="240.00" y="257.2" width="1.20" height="186.8" fill="#dbebf4"/>
<rect x="241.20" y="257.2" width="1.60" height="186.8" fill="#d7e9f3"/>
<rect x="242.80" y="257.2" width="2.40" height="186.8" fill="#dfedf5"/>
<rect x="245.20" y="257.2" width="1.20" height="186.8" fill="#d3e7f1"/>
<rect x="246.40" y="257.2" width="1.80" height="186.8" fill="#d9eaf3"/>
<rect x="248.20" y="257.2" width="1.20" height="186.8" fill="#eff7f9"/>
<rect x="249.40" y="257.2" width="1.70" height="186.8" fill="#f2f8fb"/>
<rect x="251.10" y="257.2" width="1.20" height="186.8" fill="#ece5e5"/>
<rect x="252.30" y="257.2" width="1.10" height="186.8" fill="#ebe3e3"/>
<rect x="253.40" y="257.2" width="1.60" height="186.8" fill="#d8e9f2"/>
<rect x="255.00" y="257.2" width="1.20" height="186.8" fill="#daeaf3"/>
<rect x="256.20" y="257.2" width="2.00" height="186.8" fill="#f1f7fa"/>
<rect x="258.20" y="257.2" width="1.20" height="186.8" fill="#d6e8f2"/>
<rect x="259.40" y="257.2" width="1.00" height="186.8" fill="#ddecf4"/>
<rect x="260.40" y="257.2" width="2.00" height="186.8" fill="#d7e4ee"/>
<rect x="262.40" y="257.2" width="1.00" height="186.8" fill="#f1f6f9"/>
<rect x="263.40" y="257.2" width="1.60" height="186.8" fill="#ebf4f8"/>
<rect x="265.00" y="257.2" width="2.40" height="186.8" fill="#e6f1f6"/>
<rect x="267.50" y="257.2" width="1.60" height="186.8" fill="#f9e3db"/>
<rect x="269.10" y="257.2" width="2.40" height="186.8" fill="#f9e3db"/>
<rect x="273.90" y="257.2" width="1.60" height="186.8" fill="#f9e3db"/>
<rect x="277.40" y="257.2" width="2.00" height="186.8" fill="#d1e7f2"/>
<rect x="279.40" y="257.2" width="2.40" height="186.8" fill="#d4e9f3"/>
<rect x="281.80" y="257.2" width="2.40" height="186.8" fill="#dcecf5"/>
<rect x="284.20" y="257.2" width="0.20" height="186.8" fill="#d2e8f2"/>
<rect x="284.40" y="257.2" width="2.00" height="186.8" fill="#eae4e7"/>
<rect x="286.40" y="257.2" width="1.50" height="186.8" fill="#ede8ea"/>
<rect x="287.90" y="257.2" width="1.20" height="186.8" fill="#dcebf3"/>
<rect x="289.10" y="257.2" width="1.60" height="186.8" fill="#e1eef5"/>
<rect x="290.70" y="257.2" width="0.70" height="186.8" fill="#d5e7f1"/>
<rect x="291.40" y="257.2" width="1.60" height="186.8" fill="#eaf3f8"/>
<rect x="293.00" y="257.2" width="2.40" height="186.8" fill="#ddecf4"/>
<rect x="295.40" y="257.2" width="2.00" height="186.8" fill="#cfe4f0"/>
<rect x="297.40" y="257.2" width="1.60" height="186.8" fill="#d6e8f2"/>
<rect x="299.00" y="257.2" width="1.70" height="186.8" fill="#deecf5"/>
<rect x="300.70" y="257.2" width="2.40" height="186.8" fill="#f5ece9"/>
<rect x="303.10" y="257.2" width="1.20" height="186.8" fill="#f9f3f1"/>
<rect x="305.90" y="257.2" width="1.30" height="186.8" fill="#f9e3db"/>
<rect x="307.20" y="257.2" width="1.60" height="186.8" fill="#deedf5"/>
<rect x="308.80" y="257.2" width="2.40" height="186.8" fill="#d8e9f3"/>
<rect x="311.20" y="257.2" width="1.20" height="186.8" fill="#d6e8f2"/>
<rect x="312.40" y="257.2" width="2.00" height="186.8" fill="#efe8e9"/>
<rect x="314.40" y="257.2" width="2.00" height="186.8" fill="#ede6e7"/>
<rect x="316.40" y="257.2" width="0.70" height="186.8" fill="#ece4e5"/>
<rect x="317.10" y="257.2" width="1.60" height="186.8" fill="#d6e8f1"/>
<rect x="318.70" y="257.2" width="1.30" height="186.8" fill="#daeaf2"/>
<rect x="320.00" y="257.2" width="1.60" height="186.8" fill="#dee9ef"/>
<rect x="321.60" y="257.2" width="1.20" height="186.8" fill="#eff4f7"/>
<rect x="322.80" y="257.2" width="0.70" height="186.8" fill="#dae6ed"/>
<rect x="323.50" y="257.2" width="2.40" height="186.8" fill="#daecf4"/>
<rect x="325.90" y="257.2" width="1.10" height="186.8" fill="#d7eaf4"/>
<rect x="327.00" y="257.2" width="2.40" height="186.8" fill="#ebf4f9"/>
<rect x="329.40" y="257.2" width="2.00" height="186.8" fill="#d0e5f0"/>
<rect x="331.40" y="257.2" width="1.20" height="186.8" fill="#d4e7f2"/>
<rect x="332.60" y="257.2" width="0.30" height="186.8" fill="#f2f8fb"/>
<rect x="335.70" y="257.2" width="1.80" height="186.8" fill="#f9e3db"/>
<rect x="337.50" y="257.2" width="2.00" height="186.8" fill="#d4e7f0"/>
<rect x="339.50" y="257.2" width="1.20" height="186.8" fill="#d7e9f2"/>
<rect x="340.70" y="257.2" width="1.50" height="186.8" fill="#f2f8fa"/>
<rect x="342.20" y="257.2" width="2.30" height="186.8" fill="#e6e7eb"/>
<rect x="344.50" y="257.2" width="1.20" height="186.8" fill="#f5e3dd"/>
<rect x="345.70" y="257.2" width="2.40" height="186.8" fill="#f7e8e3"/>
<rect x="348.10" y="257.2" width="0.50" height="186.8" fill="#f4ded7"/>
<rect x="348.60" y="257.2" width="2.40" height="186.8" fill="#fafcfd"/>
<rect x="351.00" y="257.2" width="1.60" height="186.8" fill="#d6e9f2"/>
<rect x="352.60" y="257.2" width="1.60" height="186.8" fill="#d5e9f2"/>
<rect x="354.20" y="257.2" width="0.80" height="186.8" fill="#d8eaf3"/>
<rect x="355.00" y="257.2" width="1.60" height="186.8" fill="#fcf9f8"/>
<rect x="356.60" y="257.2" width="1.20" height="186.8" fill="#f6efeb"/>
<rect x="357.80" y="257.2" width="0.80" height="186.8" fill="#f5ede8"/>
<rect x="358.60" y="257.2" width="1.60" height="186.8" fill="#eaf4f9"/>
<rect x="360.20" y="257.2" width="1.20" height="186.8" fill="#d2e6f1"/>
<rect x="361.40" y="257.2" width="1.20" height="186.8" fill="#dfedf5"/>
<rect x="362.60" y="257.2" width="1.60" height="186.8" fill="#d3e7f1"/>
<rect x="364.20" y="257.2" width="1.60" height="186.8" fill="#daebf4"/>
<rect x="365.80" y="257.2" width="0.90" height="186.8" fill="#ecf5f9"/>
<rect x="366.70" y="257.2" width="2.30" height="186.8" fill="#e1eff5"/>
<rect x="374.60" y="257.2" width="1.60" height="186.8" fill="#f9e3db"/>
<rect x="376.20" y="257.2" width="1.00" height="186.8" fill="#f9e3db"/>
<rect x="377.20" y="257.2" width="2.40" height="186.8" fill="#ebf4f9"/>
<rect x="379.60" y="257.2" width="2.00" height="186.8" fill="#daebf4"/>
<rect x="381.60" y="257.2" width="2.10" height="186.8" fill="#cfe5f1"/>
<rect x="383.70" y="257.2" width="2.40" height="186.8" fill="#ebecf1"/>
<rect x="386.10" y="257.2" width="1.60" height="186.8" fill="#e8e9ef"/>
<rect x="387.80" y="257.2" width="1.20" height="186.8" fill="#edf3f6"/>
<rect x="389.00" y="257.2" width="1.60" height="186.8" fill="#eaf1f5"/>
<rect x="390.60" y="257.2" width="0.70" height="186.8" fill="#edf3f6"/>
<rect x="391.30" y="257.2" width="2.40" height="186.8" fill="#f2e7e3"/>
<rect x="393.70" y="257.2" width="1.10" height="186.8" fill="#f3eae6"/>
<rect x="394.80" y="257.2" width="1.20" height="186.8" fill="#ddecf3"/>
<rect x="396.00" y="257.2" width="1.60" height="186.8" fill="#dcecf3"/>
<rect x="397.60" y="257.2" width="1.60" height="186.8" fill="#f1f7fa"/>
<rect x="399.20" y="257.2" width="0.80" height="186.8" fill="#dcebf3"/>
<rect x="400.00" y="257.2" width="1.60" height="186.8" fill="#f4e9e6"/>
<rect x="401.60" y="257.2" width="0.70" height="186.8" fill="#f4eae6"/>
<rect x="402.30" y="257.2" width="1.20" height="186.8" fill="#def1f7"/>
<rect x="403.50" y="257.2" width="1.20" height="186.8" fill="#dff1f7"/>
<rect x="404.70" y="257.2" width="0.60" height="186.8" fill="#e1f2f7"/>
<rect x="405.30" y="257.2" width="1.20" height="186.8" fill="#d3e7f1"/>
<rect x="406.50" y="257.2" width="2.40" height="186.8" fill="#daeaf3"/>
<rect x="408.90" y="257.2" width="1.60" height="186.8" fill="#ebf4f9"/>
<rect x="410.50" y="257.2" width="2.40" height="186.8" fill="#f2f7fa"/>
<rect x="412.90" y="257.2" width="2.40" height="186.8" fill="#d7e8f1"/>
<rect x="415.30" y="257.2" width="1.60" height="186.8" fill="#d9e9f2"/>
<rect x="416.90" y="257.2" width="2.40" height="186.8" fill="#ddecf4"/>
<rect x="419.30" y="257.2" width="1.20" height="186.8" fill="#d2e5f0"/>
<rect x="420.50" y="257.2" width="0.50" height="186.8" fill="#d3e6f0"/>
<rect x="421.00" y="257.2" width="1.60" height="186.8" fill="#eae6e8"/>
<rect x="422.60" y="257.2" width="1.60" height="186.8" fill="#e9e4e6"/>
<rect x="424.20" y="257.2" width="1.20" height="186.8" fill="#e4dee0"/>
<rect x="425.40" y="257.2" width="1.50" height="186.8" fill="#f6f4f5"/>
<rect x="426.90" y="257.2" width="2.00" height="186.8" fill="#eff5f9"/>
<rect x="428.90" y="257.2" width="1.20" height="186.8" fill="#d6e6f0"/>
<rect x="430.10" y="257.2" width="1.60" height="186.8" fill="#d3e5ef"/>
<rect x="431.70" y="257.2" width="2.20" height="186.8" fill="#ddebf3"/>
<rect x="433.90" y="257.2" width="1.70" height="186.8" fill="#edf4f8"/>
<rect x="435.60" y="257.2" width="2.40" height="186.8" fill="#d6e9f3"/>
<rect x="438.00" y="257.2" width="1.60" height="186.8" fill="#d0e6f2"/>
<rect x="439.60" y="257.2" width="1.60" height="186.8" fill="#d1e7f2"/>
<rect x="441.20" y="257.2" width="2.00" height="186.8" fill="#d8eaf4"/>
<rect x="443.20" y="257.2" width="1.20" height="186.8" fill="#d2e7f2"/>
<rect x="444.40" y="257.2" width="1.20" height="186.8" fill="#f9e3db"/>
<rect x="445.60" y="257.2" width="1.60" height="186.8" fill="#f9e3db"/>
<rect x="449.10" y="257.2" width="1.20" height="186.8" fill="#e5f0f6"/>
<rect x="450.30" y="257.2" width="2.30" height="186.8" fill="#e5f0f6"/>
<rect x="452.60" y="257.2" width="1.60" height="186.8" fill="#f9e3db"/>
<rect x="455.40" y="257.2" width="0.70" height="186.8" fill="#f9e3db"/>
<rect x="456.10" y="257.2" width="2.40" height="186.8" fill="#d8e7ef"/>
<rect x="458.50" y="257.2" width="1.20" height="186.8" fill="#d7e6ef"/>
<rect x="459.70" y="257.2" width="2.40" height="186.8" fill="#dbe8f0"/>
<rect x="462.10" y="257.2" width="0.40" height="186.8" fill="#ebf2f7"/>
<rect x="462.50" y="257.2" width="1.60" height="186.8" fill="#f6e2d9"/>
<rect x="464.10" y="257.2" width="1.20" height="186.8" fill="#f7e6df"/>
<rect x="465.30" y="257.2" width="1.20" height="186.8" fill="#f7e7e0"/>
<rect x="466.50" y="257.2" width="1.60" height="186.8" fill="#fbf3ef"/>
<rect x="468.10" y="257.2" width="2.00" height="186.8" fill="#f7e5dd"/>
<rect x="470.10" y="257.2" width="2.00" height="186.8" fill="#f1f6f9"/>
<rect x="472.10" y="257.2" width="0.30" height="186.8" fill="#fafbfc"/>
<rect x="472.40" y="257.2" width="2.00" height="186.8" fill="#d9eaf3"/>
<rect x="474.40" y="257.2" width="2.00" height="186.8" fill="#daeaf3"/>
<rect x="476.40" y="257.2" width="1.60" height="186.8" fill="#cbe2ef"/>
<rect x="478.00" y="257.2" width="1.20" height="186.8" fill="#d1e5f1"/>
<rect x="479.20" y="257.2" width="0.80" height="186.8" fill="#edf5f9"/>
<rect x="480.00" y="257.2" width="2.30" height="186.8" fill="#d9eaf2"/>
<rect x="482.30" y="257.2" width="1.60" height="186.8" fill="#fbf4f1"/>
<rect x="483.90" y="257.2" width="1.90" height="186.8" fill="#f7e5df"/>
<rect x="485.80" y="257.2" width="1.20" height="186.8" fill="#e2eff5"/>
<rect x="487.00" y="257.2" width="1.60" height="186.8" fill="#d9e9f2"/>
<rect x="488.60" y="257.2" width="1.20" height="186.8" fill="#e1eef5"/>
<rect x="489.90" y="257.2" width="1.60" height="186.8" fill="#f3e4df"/>
<rect x="491.70" y="257.2" width="1.20" height="186.8" fill="#f4f9fb"/>
<rect x="492.90" y="257.2" width="1.60" height="186.8" fill="#d8e9f2"/>
<rect x="494.50" y="257.2" width="2.40" height="186.8" fill="#deecf4"/>
<rect x="496.90" y="257.2" width="0.60" height="186.8" fill="#deecf4"/>
<rect x="497.50" y="257.2" width="2.00" height="186.8" fill="#f9e3db"/>
<rect x="500.40" y="257.2" width="2.40" height="186.8" fill="#e1eef6"/>
<rect x="502.80" y="257.2" width="2.40" height="186.8" fill="#d5e7f2"/>
<rect x="505.20" y="257.2" width="1.60" height="186.8" fill="#edf5f9"/>
<rect x="506.90" y="257.2" width="1.60" height="186.8" fill="#f8eae5"/>
<rect x="508.50" y="257.2" width="2.00" height="186.8" fill="#f8eae5"/>
<rect x="510.50" y="257.2" width="1.60" height="186.8" fill="#f6e3dd"/>
<rect x="512.10" y="257.2" width="1.60" height="186.8" fill="#f5e2dc"/>
<rect x="513.90" y="257.2" width="1.20" height="186.8" fill="#e4f0f6"/>
<rect x="515.10" y="257.2" width="1.20" height="186.8" fill="#deedf5"/>
<rect x="516.30" y="257.2" width="1.20" height="186.8" fill="#e6f1f7"/>
<rect x="517.50" y="257.2" width="1.10" height="186.8" fill="#e2eff6"/>
<rect x="518.60" y="257.2" width="2.40" height="186.8" fill="#f9e3db"/>
<rect x="524.40" y="257.2" width="1.60" height="186.8" fill="#f4e3dc"/>
<rect x="526.00" y="257.2" width="2.00" height="186.8" fill="#f4e2dc"/>
<rect x="528.00" y="257.2" width="1.10" height="186.8" fill="#f5e6e1"/>
<rect x="529.10" y="257.2" width="2.40" height="186.8" fill="#d6e9f2"/>
<rect x="531.50" y="257.2" width="2.20" height="186.8" fill="#d6e9f2"/>
<rect x="533.70" y="257.2" width="2.40" height="186.8" fill="#f3e6e3"/>
<rect x="536.10" y="257.2" width="2.00" height="186.8" fill="#f5ebe8"/>
<rect x="538.10" y="257.2" width="0.30" height="186.8" fill="#f1e3df"/>
<rect x="538.40" y="257.2" width="1.60" height="186.8" fill="#daebf4"/>
<rect x="540.00" y="257.2" width="1.60" height="186.8" fill="#daebf4"/>
<rect x="541.60" y="257.2" width="1.50" height="186.8" fill="#d9eaf3"/>
<rect x="543.10" y="257.2" width="2.00" height="186.8" fill="#f5e7e2"/>
<rect x="545.10" y="257.2" width="0.30" height="186.8" fill="#f5e6e1"/>
<rect x="545.40" y="257.2" width="1.20" height="186.8" fill="#f9e3db"/>
<rect x="546.60" y="257.2" width="2.00" height="186.8" fill="#f9e3db"/>
<rect x="550.10" y="257.2" width="1.60" height="186.8" fill="#dcecf4"/>
<rect x="551.70" y="257.2" width="1.20" height="186.8" fill="#d8eaf3"/>
<rect x="552.90" y="257.2" width="1.60" height="186.8" fill="#e9f3f8"/>
<rect x="554.50" y="257.2" width="1.20" height="186.8" fill="#f0f7fa"/>
<rect x="555.70" y="257.2" width="1.20" height="186.8" fill="#d4e8f1"/>
<rect x="558.30" y="257.2" width="1.60" height="186.8" fill="#f9e3db"/>
<rect x="560.00" y="257.2" width="2.00" height="186.8" fill="#d8eaf4"/>
<rect x="562.00" y="257.2" width="2.40" height="186.8" fill="#deeef5"/>
<rect x="564.40" y="257.2" width="0.30" height="186.8" fill="#eef6fa"/>
<rect x="564.70" y="257.2" width="1.70" height="186.8" fill="#f3f8fa"/>
<rect x="566.40" y="257.2" width="1.60" height="186.8" fill="#e2eff5"/>
<rect x="568.00" y="257.2" width="1.60" height="186.8" fill="#d7e9f2"/>
<rect x="569.60" y="257.2" width="1.50" height="186.8" fill="#e2eef5"/>
<rect x="571.10" y="257.2" width="1.60" height="186.8" fill="#f3d9cf"/>
<rect x="572.70" y="257.2" width="1.90" height="186.8" fill="#f6e2da"/>
<rect x="574.60" y="257.2" width="1.60" height="186.8" fill="#dfedf5"/>
<rect x="576.20" y="257.2" width="1.60" height="186.8" fill="#e0eef5"/>
<rect x="577.80" y="257.2" width="1.60" height="186.8" fill="#f2f8fb"/>
<rect x="579.40" y="257.2" width="1.60" height="186.8" fill="#ddecf5"/>
<rect x="581.00" y="257.2" width="1.20" height="186.8" fill="#d1e6f1"/>
<rect x="582.20" y="257.2" width="2.00" height="186.8" fill="#f4fafc"/>
<rect x="584.20" y="257.2" width="2.40" height="186.8" fill="#f5fafc"/>
<rect x="586.60" y="257.2" width="1.40" height="186.8" fill="#f5fafc"/>
<rect x="588.00" y="257.2" width="2.40" height="186.8" fill="#dfedf5"/>
<rect x="590.40" y="257.2" width="2.00" height="186.8" fill="#d2e6f0"/>
<rect x="592.40" y="257.2" width="1.20" height="186.8" fill="#dfedf5"/>
<rect x="593.60" y="257.2" width="2.00" height="186.8" fill="#f2f8fb"/>
<rect x="595.60" y="257.2" width="1.60" height="186.8" fill="#d1e5f0"/>
<rect x="597.20" y="257.2" width="1.40" height="186.8" fill="#daeaf3"/>
<rect x="598.60" y="257.2" width="1.60" height="186.8" fill="#f7e5e0"/>
<rect x="600.20" y="257.2" width="0.70" height="186.8" fill="#faf0ed"/>
<rect x="600.90" y="257.2" width="2.00" height="186.8" fill="#d9eaf3"/>
<rect x="602.90" y="257.2" width="1.20" height="186.8" fill="#f2f8fb"/>
<rect x="604.10" y="257.2" width="1.20" height="186.8" fill="#d3e7f1"/>
<rect x="605.30" y="257.2" width="2.00" height="186.8" fill="#dbebf4"/>
<rect x="607.30" y="257.2" width="1.60" height="186.8" fill="#d4e7f2"/>
<rect x="608.90" y="257.2" width="1.60" height="186.8" fill="#d3e7f1"/>
<rect x="610.50" y="257.2" width="0.90" height="186.8" fill="#e9f3f8"/>
<rect x="611.40" y="257.2" width="1.20" height="186.8" fill="#f5fafc"/>
<rect x="612.60" y="257.2" width="2.40" height="186.8" fill="#f7fbfd"/>
<rect x="615.00" y="257.2" width="2.00" height="186.8" fill="#f5fafc"/>
<rect x="617.00" y="257.2" width="1.60" height="186.8" fill="#fcfdfe"/>
<rect x="618.60" y="257.2" width="1.60" height="186.8" fill="#f5fafc"/>
<rect x="620.20" y="257.2" width="0.50" height="186.8" fill="#f8fbfd"/>
<rect x="620.70" y="257.2" width="0.80" height="186.8" fill="#d9ebf3"/>
<rect x="621.50" y="257.2" width="1.60" height="186.8" fill="#deeff6"/>
<rect x="623.10" y="257.2" width="1.60" height="186.8" fill="#dceef6"/>
<rect x="624.70" y="257.2" width="1.20" height="186.8" fill="#dff0f7"/>
<rect x="625.90" y="257.2" width="0.70" height="186.8" fill="#dceef6"/>
<rect x="626.60" y="257.2" width="1.60" height="186.8" fill="#fbfdfd"/>
<rect x="628.20" y="257.2" width="0.90" height="186.8" fill="#f5f9fb"/>
<rect x="629.10" y="257.2" width="2.40" height="186.8" fill="#daeaf3"/>
<rect x="631.50" y="257.2" width="1.30" height="186.8" fill="#d7e9f2"/>
<rect x="632.80" y="257.2" width="1.20" height="186.8" fill="#d0e4ef"/>
<rect x="634.00" y="257.2" width="1.60" height="186.8" fill="#d2e6f0"/>
<rect x="635.60" y="257.2" width="1.20" height="186.8" fill="#d8e9f2"/>
<rect x="636.80" y="257.2" width="1.40" height="186.8" fill="#d3e6f0"/>
<rect x="640.60" y="257.2" width="0.60" height="186.8" fill="#f9e3db"/>
<rect x="641.20" y="257.2" width="2.00" height="186.8" fill="#f9f2ef"/>
<rect x="643.20" y="257.2" width="0.90" height="186.8" fill="#f4e4dd"/>
<rect x="644.10" y="257.2" width="2.40" height="186.8" fill="#f8f9fa"/>
<rect x="646.50" y="257.2" width="0.50" height="186.8" fill="#e7eaef"/>
<rect x="649.00" y="257.2" width="1.70" height="186.8" fill="#f9e3db"/>
<rect x="650.70" y="257.2" width="2.40" height="186.8" fill="#f5f0ef"/>
<rect x="653.10" y="257.2" width="0.50" height="186.8" fill="#e9dddc"/>
<rect x="653.60" y="257.2" width="2.40" height="186.8" fill="#f5eae7"/>
<rect x="656.00" y="257.2" width="0.50" height="186.8" fill="#f2e4e0"/>
<rect x="656.50" y="257.2" width="2.00" height="186.8" fill="#d7e9f3"/>
<rect x="658.50" y="257.2" width="2.00" height="186.8" fill="#d2e7f1"/>
<rect x="660.50" y="257.2" width="1.50" height="186.8" fill="#dcecf4"/></g><rect x="91.5" y="257.2" width="572.5" height="68" fill="url(#pg)"/><g id="botstripes2" filter="url(#sb)"><rect x="349.8" y="257.2" width="3.0" height="140.9" fill="#f2a58f" opacity="0.13"/>
<rect x="537.6" y="257.2" width="2.4" height="82.3" fill="#f2a58f" opacity="0.13"/>
<rect x="426.9" y="257.2" width="1.6" height="131.2" fill="#f2a58f" opacity="0.13"/>
<rect x="363.2" y="257.2" width="3.0" height="129.3" fill="#f2a58f" opacity="0.13"/>
<rect x="145.2" y="257.2" width="2.0" height="37.1" fill="#f2a58f" opacity="0.13"/>
<rect x="399.1" y="257.2" width="1.2" height="95.8" fill="#f2a58f" opacity="0.13"/>
<rect x="317.7" y="257.2" width="2.4" height="105.3" fill="#f2a58f" opacity="0.13"/>
<rect x="443.0" y="257.2" width="1.6" height="100.3" fill="#f2a58f" opacity="0.13"/>
<rect x="566.4" y="257.2" width="1.2" height="30.7" fill="#f2a58f" opacity="0.13"/>
<rect x="200.1" y="257.2" width="1.6" height="96.5" fill="#f2a58f" opacity="0.13"/>
<rect x="535.8" y="257.2" width="2.0" height="72.5" fill="#f2a58f" opacity="0.13"/>
<rect x="572.5" y="257.2" width="3.0" height="46.3" fill="#f2a58f" opacity="0.13"/>
<rect x="259.5" y="257.2" width="1.2" height="106.7" fill="#f2a58f" opacity="0.13"/>
<rect x="352.6" y="257.2" width="2.0" height="67.8" fill="#f2a58f" opacity="0.13"/>
<rect x="406.3" y="257.2" width="1.2" height="114.4" fill="#f2a58f" opacity="0.13"/>
<rect x="271.5" y="257.2" width="1.6" height="83.0" fill="#f2a58f" opacity="0.13"/>
<rect x="108.5" y="257.2" width="3.0" height="124.5" fill="#f2a58f" opacity="0.13"/>
<rect x="320.1" y="257.2" width="2.0" height="65.0" fill="#f2a58f" opacity="0.13"/>
<rect x="638.5" y="257.2" width="1.2" height="44.1" fill="#f2a58f" opacity="0.13"/>
<rect x="620.8" y="257.2" width="1.2" height="76.7" fill="#f2a58f" opacity="0.13"/>
<rect x="651.3" y="257.2" width="2.4" height="69.6" fill="#f2a58f" opacity="0.13"/>
<rect x="414.8" y="257.2" width="1.6" height="126.7" fill="#f2a58f" opacity="0.13"/>
<rect x="245.5" y="257.2" width="1.2" height="55.4" fill="#f2a58f" opacity="0.13"/>
<rect x="100.2" y="257.2" width="2.4" height="123.1" fill="#f2a58f" opacity="0.13"/>
<rect x="158.9" y="257.2" width="1.6" height="114.2" fill="#f2a58f" opacity="0.13"/>
<rect x="97.8" y="257.2" width="2.4" height="130.0" fill="#f2a58f" opacity="0.13"/>
<rect x="193.0" y="257.2" width="3.0" height="41.6" fill="#f2a58f" opacity="0.13"/>
<rect x="382.1" y="257.2" width="1.6" height="69.5" fill="#f2a58f" opacity="0.13"/>
<rect x="310.6" y="257.2" width="2.4" height="69.7" fill="#f2a58f" opacity="0.13"/>
<rect x="213.0" y="257.2" width="2.0" height="142.3" fill="#f2a58f" opacity="0.13"/>
<rect x="648.1" y="257.2" width="3.0" height="54.5" fill="#f2a58f" opacity="0.13"/>
<rect x="596.8" y="257.2" width="1.6" height="41.4" fill="#f2a58f" opacity="0.13"/>
<rect x="660.1" y="257.2" width="3.0" height="103.3" fill="#f2a58f" opacity="0.13"/>
<rect x="148.8" y="257.2" width="1.6" height="44.1" fill="#f2a58f" opacity="0.13"/>
<rect x="239.0" y="257.2" width="3.0" height="57.6" fill="#f2a58f" opacity="0.13"/>
<rect x="260.7" y="257.2" width="1.2" height="31.7" fill="#f2a58f" opacity="0.13"/>
<rect x="210.7" y="257.2" width="1.6" height="28.4" fill="#f2a58f" opacity="0.13"/>
<rect x="302.0" y="257.2" width="3.0" height="74.3" fill="#f2a58f" opacity="0.13"/>
<rect x="639.2" y="257.2" width="2.4" height="136.4" fill="#f2a58f" opacity="0.13"/>
<rect x="169.0" y="257.2" width="2.4" height="41.0" fill="#f2a58f" opacity="0.13"/>
<rect x="179.5" y="257.2" width="1.6" height="133.7" fill="#f2a58f" opacity="0.13"/>
<rect x="234.0" y="257.2" width="1.6" height="38.6" fill="#f2a58f" opacity="0.13"/>
<rect x="450.6" y="257.2" width="3.0" height="42.4" fill="#f2a58f" opacity="0.13"/>
<rect x="634.0" y="257.2" width="2.4" height="97.1" fill="#f2a58f" opacity="0.13"/>
<rect x="332.2" y="257.2" width="1.2" height="34.3" fill="#f2a58f" opacity="0.13"/>
<rect x="384.1" y="257.2" width="2.0" height="46.8" fill="#f2a58f" opacity="0.13"/>
<rect x="493.8" y="257.2" width="2.0" height="69.7" fill="#f2a58f" opacity="0.13"/>
<rect x="608.2" y="257.2" width="2.4" height="53.2" fill="#f2a58f" opacity="0.13"/>
<rect x="191.7" y="257.2" width="1.2" height="35.8" fill="#f2a58f" opacity="0.13"/>
<rect x="365.2" y="257.2" width="3.0" height="98.8" fill="#f2a58f" opacity="0.13"/>
<rect x="251.5" y="257.2" width="1.6" height="121.5" fill="#f2a58f" opacity="0.13"/>
<rect x="131.0" y="257.2" width="2.4" height="73.2" fill="#f2a58f" opacity="0.13"/>
<rect x="126.0" y="257.2" width="1.6" height="51.8" fill="#f2a58f" opacity="0.13"/>
<rect x="394.7" y="257.2" width="1.6" height="33.0" fill="#f2a58f" opacity="0.13"/>
<rect x="170.5" y="257.2" width="2.4" height="164.3" fill="#f2a58f" opacity="0.13"/>
<rect x="466.6" y="257.2" width="3.0" height="94.1" fill="#f2a58f" opacity="0.13"/>
<rect x="171.6" y="257.2" width="1.2" height="153.4" fill="#f2a58f" opacity="0.13"/>
<rect x="362.6" y="257.2" width="2.0" height="113.2" fill="#f2a58f" opacity="0.13"/>
<rect x="641.2" y="257.2" width="1.2" height="96.3" fill="#f2a58f" opacity="0.13"/>
<rect x="134.2" y="257.2" width="1.2" height="118.3" fill="#f2a58f" opacity="0.13"/>
<rect x="273.6" y="257.2" width="1.2" height="31.8" fill="#f2a58f" opacity="0.13"/>
<rect x="403.3" y="257.2" width="1.2" height="148.9" fill="#f2a58f" opacity="0.13"/>
<rect x="512.4" y="257.2" width="1.6" height="129.3" fill="#f2a58f" opacity="0.13"/>
<rect x="614.0" y="257.2" width="2.0" height="32.5" fill="#f2a58f" opacity="0.13"/>
<rect x="361.7" y="257.2" width="1.2" height="143.5" fill="#f2a58f" opacity="0.13"/>
<rect x="329.7" y="257.2" width="1.2" height="142.1" fill="#f2a58f" opacity="0.13"/>
<rect x="418.6" y="257.2" width="3.0" height="106.7" fill="#f2a58f" opacity="0.13"/>
<rect x="308.0" y="257.2" width="1.2" height="98.0" fill="#f2a58f" opacity="0.13"/>
<rect x="137.3" y="257.2" width="1.2" height="166.8" fill="#f2a58f" opacity="0.13"/>
<rect x="593.9" y="257.2" width="2.0" height="65.3" fill="#f2a58f" opacity="0.13"/>
<rect x="511.2" y="257.2" width="3.0" height="74.9" fill="#f2a58f" opacity="0.13"/>
<rect x="355.7" y="257.2" width="3.0" height="32.4" fill="#f2a58f" opacity="0.13"/>
<rect x="519.9" y="257.2" width="1.2" height="55.2" fill="#f2a58f" opacity="0.13"/>
<rect x="141.6" y="257.2" width="1.2" height="45.9" fill="#f2a58f" opacity="0.13"/>
<rect x="490.2" y="257.2" width="2.4" height="127.0" fill="#f2a58f" opacity="0.13"/>
<rect x="468.4" y="257.2" width="2.4" height="48.8" fill="#f2a58f" opacity="0.13"/>
<rect x="98.0" y="257.2" width="2.0" height="37.2" fill="#f2a58f" opacity="0.13"/>
<rect x="440.8" y="257.2" width="3.0" height="39.7" fill="#f2a58f" opacity="0.13"/>
<rect x="608.7" y="257.2" width="2.4" height="80.9" fill="#f2a58f" opacity="0.13"/>
<rect x="229.4" y="257.2" width="2.4" height="107.3" fill="#f2a58f" opacity="0.13"/>
<rect x="204.8" y="257.2" width="2.4" height="131.2" fill="#f2a58f" opacity="0.13"/>
<rect x="522.4" y="257.2" width="1.6" height="145.2" fill="#f2a58f" opacity="0.13"/>
<rect x="311.0" y="257.2" width="3.0" height="152.8" fill="#f2a58f" opacity="0.13"/>
<rect x="211.3" y="257.2" width="1.6" height="80.6" fill="#f2a58f" opacity="0.13"/>
<rect x="569.5" y="257.2" width="1.2" height="115.0" fill="#f2a58f" opacity="0.13"/>
<rect x="634.0" y="257.2" width="2.0" height="134.5" fill="#f2a58f" opacity="0.13"/>
<rect x="155.9" y="257.2" width="2.4" height="51.0" fill="#f2a58f" opacity="0.13"/>
<rect x="213.7" y="257.2" width="2.4" height="64.5" fill="#f2a58f" opacity="0.13"/>
<rect x="388.4" y="257.2" width="2.0" height="115.8" fill="#f2a58f" opacity="0.13"/>
<rect x="572.2" y="257.2" width="3.0" height="74.2" fill="#f2a58f" opacity="0.13"/>
<rect x="134.1" y="257.2" width="1.2" height="51.4" fill="#f2a58f" opacity="0.13"/>
<rect x="438.4" y="257.2" width="2.0" height="91.9" fill="#f2a58f" opacity="0.13"/>
<rect x="268.0" y="257.2" width="3.0" height="28.6" fill="#f2a58f" opacity="0.13"/>
<rect x="169.1" y="257.2" width="2.4" height="41.7" fill="#f2a58f" opacity="0.13"/>
<rect x="530.7" y="257.2" width="2.0" height="46.7" fill="#f2a58f" opacity="0.13"/>
<rect x="171.9" y="257.2" width="1.2" height="165.0" fill="#f2a58f" opacity="0.13"/>
<rect x="157.3" y="257.2" width="1.2" height="101.4" fill="#f2a58f" opacity="0.13"/>
<rect x="465.5" y="257.2" width="2.0" height="160.0" fill="#f2a58f" opacity="0.13"/>
<rect x="482.3" y="257.2" width="1.6" height="134.8" fill="#f2a58f" opacity="0.13"/>
<rect x="237.7" y="257.2" width="1.2" height="122.6" fill="#f2a58f" opacity="0.13"/>
<rect x="396.9" y="257.2" width="1.2" height="40.6" fill="#f2a58f" opacity="0.13"/>
<rect x="247.0" y="257.2" width="2.0" height="87.1" fill="#f2a58f" opacity="0.13"/>
<rect x="632.1" y="257.2" width="3.0" height="98.9" fill="#f2a58f" opacity="0.13"/>
<rect x="523.3" y="257.2" width="2.4" height="139.4" fill="#f2a58f" opacity="0.13"/>
<rect x="491.1" y="257.2" width="1.6" height="32.6" fill="#f2a58f" opacity="0.13"/>
<rect x="624.0" y="257.2" width="2.4" height="36.1" fill="#f2a58f" opacity="0.13"/>
<rect x="350.5" y="257.2" width="1.2" height="63.7" fill="#f2a58f" opacity="0.13"/>
<rect x="416.3" y="257.2" width="3.0" height="130.0" fill="#f2a58f" opacity="0.13"/>
<rect x="630.7" y="257.2" width="2.4" height="57.2" fill="#f2a58f" opacity="0.13"/>
<rect x="652.4" y="257.2" width="1.2" height="116.8" fill="#f2a58f" opacity="0.13"/>
<rect x="558.8" y="257.2" width="1.2" height="44.1" fill="#f2a58f" opacity="0.13"/>
<rect x="605.4" y="257.2" width="1.2" height="163.7" fill="#f2a58f" opacity="0.13"/>
<rect x="398.1" y="257.2" width="2.0" height="49.5" fill="#f2a58f" opacity="0.13"/>
<rect x="501.6" y="257.2" width="1.2" height="60.0" fill="#f2a58f" opacity="0.13"/>
<rect x="138.8" y="257.2" width="2.4" height="59.2" fill="#f2a58f" opacity="0.13"/>
<rect x="332.1" y="257.2" width="2.0" height="79.3" fill="#f2a58f" opacity="0.13"/>
<rect x="107.7" y="257.2" width="1.2" height="70.9" fill="#f2a58f" opacity="0.13"/>
<rect x="111.5" y="257.2" width="3.0" height="58.3" fill="#f2a58f" opacity="0.13"/>
<rect x="541.4" y="257.2" width="1.6" height="76.8" fill="#f2a58f" opacity="0.13"/>
<rect x="662.4" y="257.2" width="3.0" height="137.8" fill="#f2a58f" opacity="0.13"/>
<rect x="485.1" y="257.2" width="2.4" height="93.2" fill="#f2a58f" opacity="0.13"/>
<rect x="485.0" y="257.2" width="1.6" height="72.3" fill="#f2a58f" opacity="0.13"/>
<rect x="410.6" y="257.2" width="3.0" height="102.8" fill="#f2a58f" opacity="0.13"/>
<rect x="390.0" y="257.2" width="3.0" height="48.9" fill="#f2a58f" opacity="0.13"/>
<rect x="474.8" y="257.2" width="3.0" height="43.6" fill="#f2a58f" opacity="0.13"/>
<rect x="577.3" y="257.2" width="3.0" height="84.7" fill="#f2a58f" opacity="0.13"/>
<rect x="418.7" y="257.2" width="1.6" height="68.4" fill="#f2a58f" opacity="0.13"/>
<rect x="156.8" y="257.2" width="1.2" height="97.4" fill="#f2a58f" opacity="0.13"/>
<rect x="107.3" y="257.2" width="1.2" height="83.5" fill="#f2a58f" opacity="0.13"/>
<rect x="320.2" y="257.2" width="3.0" height="35.4" fill="#f2a58f" opacity="0.13"/>
<rect x="144.7" y="257.2" width="1.6" height="31.1" fill="#f2a58f" opacity="0.13"/>
<rect x="399.1" y="257.2" width="2.4" height="152.8" fill="#f2a58f" opacity="0.13"/>
<rect x="548.5" y="257.2" width="2.4" height="50.3" fill="#f2a58f" opacity="0.13"/>
<rect x="361.7" y="257.2" width="1.6" height="58.9" fill="#f2a58f" opacity="0.13"/>
<rect x="605.9" y="257.2" width="2.4" height="84.9" fill="#f2a58f" opacity="0.13"/>
<rect x="153.5" y="257.2" width="2.4" height="99.4" fill="#f2a58f" opacity="0.13"/>
<rect x="619.8" y="257.2" width="1.6" height="113.4" fill="#f2a58f" opacity="0.13"/>
<rect x="649.5" y="257.2" width="1.2" height="42.1" fill="#f2a58f" opacity="0.13"/>
<rect x="221.3" y="257.2" width="2.0" height="56.7" fill="#f2a58f" opacity="0.13"/>
<rect x="294.4" y="257.2" width="3.0" height="80.9" fill="#f2a58f" opacity="0.13"/>
<rect x="376.8" y="257.2" width="3.0" height="35.5" fill="#f2a58f" opacity="0.13"/>
<rect x="383.0" y="257.2" width="2.0" height="116.1" fill="#f2a58f" opacity="0.13"/>
<rect x="492.0" y="257.2" width="2.4" height="28.7" fill="#f2a58f" opacity="0.13"/>
<rect x="452.9" y="257.2" width="3.0" height="99.1" fill="#f2a58f" opacity="0.13"/>
<rect x="398.8" y="257.2" width="3.0" height="102.8" fill="#f2a58f" opacity="0.13"/>
<rect x="393.9" y="257.2" width="3.0" height="98.4" fill="#f2a58f" opacity="0.13"/>
<rect x="580.7" y="257.2" width="1.6" height="151.7" fill="#f2a58f" opacity="0.13"/>
<rect x="450.0" y="257.2" width="2.0" height="149.4" fill="#f2a58f" opacity="0.13"/>
<rect x="271.9" y="257.2" width="2.0" height="147.2" fill="#f2a58f" opacity="0.13"/>
<rect x="202.7" y="257.2" width="1.6" height="146.6" fill="#f2a58f" opacity="0.13"/>
<rect x="168.0" y="257.2" width="1.6" height="36.3" fill="#f2a58f" opacity="0.13"/>
<rect x="141.8" y="257.2" width="2.4" height="33.4" fill="#f2a58f" opacity="0.13"/>
<rect x="566.7" y="257.2" width="2.4" height="87.7" fill="#f2a58f" opacity="0.13"/>
<rect x="494.0" y="257.2" width="1.6" height="67.2" fill="#f2a58f" opacity="0.13"/>
<rect x="482.8" y="257.2" width="1.2" height="33.3" fill="#f2a58f" opacity="0.13"/>
<rect x="416.9" y="257.2" width="2.0" height="151.1" fill="#f2a58f" opacity="0.13"/>
<rect x="644.4" y="257.2" width="1.2" height="113.9" fill="#f2a58f" opacity="0.13"/>
<rect x="453.9" y="257.2" width="2.0" height="81.5" fill="#f2a58f" opacity="0.13"/>
<rect x="483.0" y="257.2" width="1.6" height="131.0" fill="#f2a58f" opacity="0.13"/>
<rect x="366.8" y="257.2" width="1.2" height="29.4" fill="#f2a58f" opacity="0.13"/>
<rect x="406.5" y="257.2" width="3.0" height="149.9" fill="#f2a58f" opacity="0.13"/>
<rect x="366.3" y="257.2" width="1.6" height="41.2" fill="#f2a58f" opacity="0.13"/>
<rect x="207.9" y="257.2" width="1.6" height="166.2" fill="#f2a58f" opacity="0.13"/>
<rect x="620.8" y="257.2" width="1.2" height="93.3" fill="#f2a58f" opacity="0.13"/>
<rect x="168.3" y="257.2" width="2.4" height="31.9" fill="#f2a58f" opacity="0.13"/>
<rect x="146.7" y="257.2" width="2.4" height="76.3" fill="#f2a58f" opacity="0.13"/>
<rect x="385.7" y="257.2" width="2.4" height="43.8" fill="#f2a58f" opacity="0.13"/>
<rect x="304.6" y="257.2" width="1.2" height="138.6" fill="#f2a58f" opacity="0.13"/>
<rect x="195.0" y="257.2" width="2.4" height="61.5" fill="#f2a58f" opacity="0.13"/>
<rect x="302.9" y="257.2" width="1.6" height="97.3" fill="#f2a58f" opacity="0.13"/>
<rect x="145.6" y="257.2" width="1.2" height="56.9" fill="#f2a58f" opacity="0.13"/>
<rect x="139.9" y="257.2" width="2.4" height="91.7" fill="#f2a58f" opacity="0.13"/>
<rect x="200.5" y="257.2" width="3.0" height="164.7" fill="#f2a58f" opacity="0.13"/>
<rect x="551.1" y="257.2" width="2.0" height="51.5" fill="#f2a58f" opacity="0.13"/>
<rect x="157.9" y="257.2" width="1.6" height="133.2" fill="#f2a58f" opacity="0.13"/>
<rect x="323.1" y="257.2" width="2.0" height="145.1" fill="#f2a58f" opacity="0.13"/>
<rect x="488.2" y="257.2" width="2.4" height="124.3" fill="#f2a58f" opacity="0.13"/>
<rect x="323.2" y="257.2" width="1.6" height="31.4" fill="#f2a58f" opacity="0.13"/>
<rect x="286.6" y="257.2" width="2.4" height="33.7" fill="#f2a58f" opacity="0.13"/>
<rect x="598.6" y="257.2" width="3.0" height="30.1" fill="#f2a58f" opacity="0.13"/>
<rect x="247.4" y="257.2" width="2.0" height="58.7" fill="#f2a58f" opacity="0.13"/>
<rect x="468.2" y="257.2" width="3.0" height="40.9" fill="#f2a58f" opacity="0.13"/>
<rect x="135.4" y="257.2" width="3.0" height="168.1" fill="#f2a58f" opacity="0.13"/>
<rect x="458.2" y="257.2" width="1.2" height="123.7" fill="#f2a58f" opacity="0.13"/>
<rect x="651.1" y="257.2" width="1.2" height="34.8" fill="#f2a58f" opacity="0.13"/>
<rect x="153.2" y="257.2" width="1.6" height="48.9" fill="#f2a58f" opacity="0.13"/>
<rect x="320.8" y="257.2" width="1.2" height="123.7" fill="#f2a58f" opacity="0.13"/>
<rect x="461.5" y="257.2" width="1.2" height="33.5" fill="#f2a58f" opacity="0.13"/>
<rect x="234.8" y="257.2" width="2.0" height="88.7" fill="#f2a58f" opacity="0.13"/>
<rect x="381.5" y="257.2" width="3.0" height="91.5" fill="#f2a58f" opacity="0.13"/>
<rect x="659.7" y="257.2" width="2.4" height="132.2" fill="#f2a58f" opacity="0.13"/>
<rect x="135.0" y="257.2" width="3.0" height="107.7" fill="#f2a58f" opacity="0.13"/>
<rect x="637.0" y="257.2" width="2.4" height="154.6" fill="#f2a58f" opacity="0.13"/>
<rect x="182.8" y="257.2" width="2.4" height="162.3" fill="#f2a58f" opacity="0.13"/>
<rect x="580.1" y="257.2" width="3.0" height="98.3" fill="#f2a58f" opacity="0.13"/>
<rect x="124.9" y="257.2" width="2.4" height="69.7" fill="#f2a58f" opacity="0.13"/>
<rect x="392.3" y="257.2" width="3.0" height="55.5" fill="#f2a58f" opacity="0.13"/>
<rect x="394.4" y="257.2" width="2.4" height="105.5" fill="#f2a58f" opacity="0.13"/>
<rect x="411.6" y="257.2" width="2.0" height="106.9" fill="#f2a58f" opacity="0.13"/>
<rect x="518.5" y="257.2" width="1.2" height="28.4" fill="#f2a58f" opacity="0.13"/>
<rect x="231.4" y="257.2" width="1.2" height="101.9" fill="#f2a58f" opacity="0.13"/>
<rect x="324.9" y="257.2" width="2.4" height="30.3" fill="#f2a58f" opacity="0.13"/>
<rect x="271.4" y="257.2" width="2.4" height="30.1" fill="#f2a58f" opacity="0.13"/>
<rect x="656.1" y="257.2" width="2.0" height="31.6" fill="#f2a58f" opacity="0.13"/>
<rect x="608.6" y="257.2" width="2.4" height="116.3" fill="#f2a58f" opacity="0.13"/>
<rect x="234.8" y="257.2" width="1.6" height="29.9" fill="#f2a58f" opacity="0.13"/>
<rect x="147.7" y="257.2" width="2.4" height="37.3" fill="#f2a58f" opacity="0.13"/>
<rect x="639.6" y="257.2" width="1.6" height="97.1" fill="#f2a58f" opacity="0.13"/>
<rect x="157.2" y="257.2" width="3.0" height="69.2" fill="#f2a58f" opacity="0.13"/>
<rect x="158.9" y="257.2" width="1.2" height="61.1" fill="#f2a58f" opacity="0.13"/>
<rect x="179.8" y="257.2" width="2.0" height="72.8" fill="#f2a58f" opacity="0.13"/>
<rect x="472.9" y="257.2" width="2.4" height="96.7" fill="#f2a58f" opacity="0.13"/>
<rect x="456.7" y="257.2" width="2.4" height="62.1" fill="#f2a58f" opacity="0.13"/>
<rect x="516.2" y="257.2" width="1.6" height="158.9" fill="#f2a58f" opacity="0.13"/>
<rect x="510.8" y="257.2" width="1.6" height="78.3" fill="#f2a58f" opacity="0.13"/>
<rect x="378.7" y="257.2" width="2.0" height="127.7" fill="#f2a58f" opacity="0.13"/>
<rect x="448.4" y="257.2" width="2.0" height="51.0" fill="#f2a58f" opacity="0.13"/>
<rect x="439.7" y="257.2" width="3.0" height="112.9" fill="#f2a58f" opacity="0.13"/>
<rect x="200.0" y="257.2" width="2.0" height="122.3" fill="#f2a58f" opacity="0.13"/>
<rect x="199.9" y="257.2" width="1.6" height="81.4" fill="#f2a58f" opacity="0.13"/>
<rect x="464.3" y="257.2" width="1.6" height="144.9" fill="#f2a58f" opacity="0.13"/>
<rect x="114.1" y="257.2" width="1.2" height="28.2" fill="#f2a58f" opacity="0.13"/>
<rect x="239.7" y="257.2" width="1.2" height="100.3" fill="#f2a58f" opacity="0.13"/>
<rect x="150.0" y="257.2" width="3.0" height="51.4" fill="#f2a58f" opacity="0.13"/>
<rect x="523.1" y="257.2" width="1.6" height="88.8" fill="#f2a58f" opacity="0.13"/>
<rect x="451.9" y="257.2" width="2.0" height="78.7" fill="#f2a58f" opacity="0.13"/>
<rect x="293.7" y="257.2" width="2.0" height="59.4" fill="#f2a58f" opacity="0.13"/>
<rect x="516.8" y="257.2" width="1.2" height="130.9" fill="#f2a58f" opacity="0.13"/>
<rect x="346.9" y="257.2" width="3.0" height="137.4" fill="#f2a58f" opacity="0.13"/>
<rect x="530.6" y="257.2" width="2.4" height="70.2" fill="#f2a58f" opacity="0.13"/>
<rect x="238.9" y="257.2" width="1.6" height="62.7" fill="#f2a58f" opacity="0.13"/>
<rect x="464.7" y="257.2" width="3.0" height="57.1" fill="#f2a58f" opacity="0.13"/>
<rect x="404.8" y="257.2" width="1.6" height="70.7" fill="#f2a58f" opacity="0.13"/>
<rect x="302.3" y="257.2" width="1.2" height="75.5" fill="#f2a58f" opacity="0.13"/>
<rect x="276.6" y="257.2" width="3.0" height="32.3" fill="#f2a58f" opacity="0.13"/>
<rect x="413.7" y="257.2" width="2.4" height="133.3" fill="#f2a58f" opacity="0.13"/>
<rect x="356.2" y="257.2" width="1.2" height="31.8" fill="#f2a58f" opacity="0.13"/>
<rect x="213.3" y="257.2" width="3.0" height="32.2" fill="#f2a58f" opacity="0.13"/>
<rect x="265.0" y="257.2" width="2.0" height="51.9" fill="#f2a58f" opacity="0.13"/>
<rect x="173.1" y="257.2" width="2.0" height="105.9" fill="#f2a58f" opacity="0.13"/></g><g id="botstripes3" filter="url(#sb)"><rect x="239.4" y="288.6" width="1.6" height="155.4" fill="#a9d1e8" opacity="0.2"/>
<rect x="471.9" y="289.7" width="1.6" height="154.3" fill="#a9d1e8" opacity="0.2"/>
<rect x="198.5" y="300.6" width="1.2" height="143.4" fill="#a9d1e8" opacity="0.2"/>
<rect x="213.6" y="368.2" width="2.0" height="75.8" fill="#a9d1e8" opacity="0.2"/>
<rect x="163.6" y="257.4" width="3.0" height="186.6" fill="#a9d1e8" opacity="0.2"/>
<rect x="658.5" y="357.0" width="1.6" height="87.0" fill="#a9d1e8" opacity="0.2"/>
<rect x="544.9" y="272.4" width="2.0" height="171.6" fill="#a9d1e8" opacity="0.2"/>
<rect x="516.8" y="275.3" width="1.6" height="168.7" fill="#a9d1e8" opacity="0.2"/>
<rect x="238.1" y="305.3" width="1.6" height="138.7" fill="#a9d1e8" opacity="0.2"/>
<rect x="522.6" y="258.8" width="3.0" height="185.2" fill="#a9d1e8" opacity="0.2"/>
<rect x="474.5" y="289.9" width="2.4" height="154.1" fill="#a9d1e8" opacity="0.2"/>
<rect x="465.6" y="273.0" width="2.0" height="171.0" fill="#a9d1e8" opacity="0.2"/>
<rect x="547.3" y="284.9" width="2.0" height="159.1" fill="#a9d1e8" opacity="0.2"/>
<rect x="408.0" y="310.2" width="1.6" height="133.8" fill="#a9d1e8" opacity="0.2"/>
<rect x="507.7" y="342.5" width="3.0" height="101.5" fill="#a9d1e8" opacity="0.2"/>
<rect x="207.2" y="319.7" width="3.0" height="124.3" fill="#a9d1e8" opacity="0.2"/>
<rect x="303.4" y="293.2" width="2.0" height="150.8" fill="#a9d1e8" opacity="0.2"/>
<rect x="317.5" y="296.0" width="1.6" height="148.0" fill="#a9d1e8" opacity="0.2"/>
<rect x="405.6" y="334.5" width="3.0" height="109.5" fill="#a9d1e8" opacity="0.2"/>
<rect x="202.5" y="349.3" width="2.0" height="94.7" fill="#a9d1e8" opacity="0.2"/>
<rect x="337.2" y="315.8" width="2.4" height="128.2" fill="#a9d1e8" opacity="0.2"/>
<rect x="502.0" y="335.9" width="1.2" height="108.1" fill="#a9d1e8" opacity="0.2"/>
<rect x="375.9" y="289.9" width="2.4" height="154.1" fill="#a9d1e8" opacity="0.2"/>
<rect x="182.7" y="280.6" width="2.4" height="163.4" fill="#a9d1e8" opacity="0.2"/>
<rect x="235.0" y="338.8" width="2.0" height="105.2" fill="#a9d1e8" opacity="0.2"/>
<rect x="578.9" y="301.8" width="2.0" height="142.2" fill="#a9d1e8" opacity="0.2"/>
<rect x="466.6" y="334.2" width="3.0" height="109.8" fill="#a9d1e8" opacity="0.2"/>
<rect x="374.9" y="365.3" width="3.0" height="78.7" fill="#a9d1e8" opacity="0.2"/>
<rect x="492.2" y="319.3" width="1.2" height="124.7" fill="#a9d1e8" opacity="0.2"/>
<rect x="507.0" y="341.8" width="2.0" height="102.2" fill="#a9d1e8" opacity="0.2"/>
<rect x="201.6" y="352.4" width="3.0" height="91.6" fill="#a9d1e8" opacity="0.2"/>
<rect x="220.3" y="311.5" width="1.2" height="132.5" fill="#a9d1e8" opacity="0.2"/>
<rect x="431.3" y="284.5" width="3.0" height="159.5" fill="#a9d1e8" opacity="0.2"/>
<rect x="646.0" y="289.3" width="2.0" height="154.7" fill="#a9d1e8" opacity="0.2"/>
<rect x="392.2" y="257.4" width="1.6" height="186.6" fill="#a9d1e8" opacity="0.2"/>
<rect x="160.9" y="265.2" width="2.0" height="178.8" fill="#a9d1e8" opacity="0.2"/>
<rect x="414.1" y="262.5" width="1.2" height="181.5" fill="#a9d1e8" opacity="0.2"/>
<rect x="389.6" y="375.4" width="1.2" height="68.6" fill="#a9d1e8" opacity="0.2"/>
<rect x="282.6" y="297.7" width="2.4" height="146.3" fill="#a9d1e8" opacity="0.2"/>
<rect x="395.7" y="336.1" width="2.4" height="107.9" fill="#a9d1e8" opacity="0.2"/>
<rect x="209.8" y="317.4" width="1.2" height="126.6" fill="#a9d1e8" opacity="0.2"/>
<rect x="499.3" y="280.4" width="1.6" height="163.6" fill="#a9d1e8" opacity="0.2"/>
<rect x="239.0" y="331.5" width="1.6" height="112.5" fill="#a9d1e8" opacity="0.2"/>
<rect x="427.3" y="277.2" width="2.0" height="166.8" fill="#a9d1e8" opacity="0.2"/>
<rect x="429.6" y="338.7" width="2.4" height="105.3" fill="#a9d1e8" opacity="0.2"/>
<rect x="291.8" y="324.3" width="1.2" height="119.7" fill="#a9d1e8" opacity="0.2"/>
<rect x="354.5" y="278.6" width="1.2" height="165.4" fill="#a9d1e8" opacity="0.2"/>
<rect x="434.0" y="288.5" width="1.2" height="155.5" fill="#a9d1e8" opacity="0.2"/>
<rect x="266.4" y="305.9" width="2.4" height="138.1" fill="#a9d1e8" opacity="0.2"/>
<rect x="408.2" y="361.4" width="2.0" height="82.6" fill="#a9d1e8" opacity="0.2"/>
<rect x="393.0" y="346.7" width="1.6" height="97.3" fill="#a9d1e8" opacity="0.2"/>
<rect x="121.5" y="272.6" width="2.0" height="171.4" fill="#a9d1e8" opacity="0.2"/>
<rect x="216.1" y="293.4" width="2.0" height="150.6" fill="#a9d1e8" opacity="0.2"/>
<rect x="257.6" y="349.8" width="2.0" height="94.2" fill="#a9d1e8" opacity="0.2"/>
<rect x="297.6" y="295.2" width="2.4" height="148.8" fill="#a9d1e8" opacity="0.2"/>
<rect x="424.6" y="365.1" width="2.4" height="78.9" fill="#a9d1e8" opacity="0.2"/>
<rect x="397.0" y="260.0" width="1.6" height="184.0" fill="#a9d1e8" opacity="0.2"/>
<rect x="119.6" y="266.5" width="1.6" height="177.5" fill="#a9d1e8" opacity="0.2"/>
<rect x="402.9" y="265.6" width="1.6" height="178.4" fill="#a9d1e8" opacity="0.2"/>
<rect x="602.3" y="356.2" width="1.6" height="87.8" fill="#a9d1e8" opacity="0.2"/>
<rect x="623.6" y="321.0" width="1.2" height="123.0" fill="#a9d1e8" opacity="0.2"/>
<rect x="549.3" y="364.3" width="1.6" height="79.7" fill="#a9d1e8" opacity="0.2"/>
<rect x="227.3" y="301.8" width="1.6" height="142.2" fill="#a9d1e8" opacity="0.2"/>
<rect x="617.1" y="339.9" width="2.4" height="104.1" fill="#a9d1e8" opacity="0.2"/>
<rect x="316.0" y="271.2" width="1.2" height="172.8" fill="#a9d1e8" opacity="0.2"/>
<rect x="604.0" y="292.4" width="1.2" height="151.6" fill="#a9d1e8" opacity="0.2"/>
<rect x="629.7" y="300.4" width="2.0" height="143.6" fill="#a9d1e8" opacity="0.2"/>
<rect x="262.5" y="326.6" width="3.0" height="117.4" fill="#a9d1e8" opacity="0.2"/>
<rect x="141.1" y="263.1" width="1.2" height="180.9" fill="#a9d1e8" opacity="0.2"/>
<rect x="186.9" y="353.2" width="1.2" height="90.8" fill="#a9d1e8" opacity="0.2"/>
<rect x="500.4" y="257.2" width="1.2" height="186.8" fill="#a9d1e8" opacity="0.2"/>
<rect x="553.5" y="344.9" width="2.4" height="99.1" fill="#a9d1e8" opacity="0.2"/>
<rect x="650.6" y="264.2" width="2.0" height="179.8" fill="#a9d1e8" opacity="0.2"/>
<rect x="114.8" y="325.3" width="1.2" height="118.7" fill="#a9d1e8" opacity="0.2"/>
<rect x="660.3" y="315.8" width="2.4" height="128.2" fill="#a9d1e8" opacity="0.2"/>
<rect x="177.6" y="309.2" width="1.6" height="134.8" fill="#a9d1e8" opacity="0.2"/>
<rect x="93.6" y="300.5" width="1.2" height="143.5" fill="#a9d1e8" opacity="0.2"/>
<rect x="249.2" y="262.6" width="1.6" height="181.4" fill="#a9d1e8" opacity="0.2"/>
<rect x="232.7" y="312.9" width="2.0" height="131.1" fill="#a9d1e8" opacity="0.2"/>
<rect x="658.6" y="313.7" width="2.4" height="130.3" fill="#a9d1e8" opacity="0.2"/>
<rect x="180.0" y="265.7" width="3.0" height="178.3" fill="#a9d1e8" opacity="0.2"/>
<rect x="397.9" y="277.8" width="1.6" height="166.2" fill="#a9d1e8" opacity="0.2"/>
<rect x="499.3" y="368.4" width="1.6" height="75.6" fill="#a9d1e8" opacity="0.2"/>
<rect x="608.7" y="272.8" width="2.4" height="171.2" fill="#a9d1e8" opacity="0.2"/>
<rect x="193.5" y="375.4" width="1.2" height="68.6" fill="#a9d1e8" opacity="0.2"/>
<rect x="167.4" y="267.1" width="1.2" height="176.9" fill="#a9d1e8" opacity="0.2"/>
<rect x="375.2" y="281.7" width="3.0" height="162.3" fill="#a9d1e8" opacity="0.2"/>
<rect x="123.1" y="368.9" width="2.4" height="75.1" fill="#a9d1e8" opacity="0.2"/>
<rect x="395.1" y="326.6" width="1.6" height="117.4" fill="#a9d1e8" opacity="0.2"/>
<rect x="445.2" y="281.0" width="1.2" height="163.0" fill="#a9d1e8" opacity="0.2"/>
<rect x="335.9" y="335.8" width="2.0" height="108.2" fill="#a9d1e8" opacity="0.2"/>
<rect x="103.8" y="333.4" width="1.2" height="110.6" fill="#a9d1e8" opacity="0.2"/>
<rect x="394.3" y="296.6" width="1.2" height="147.4" fill="#a9d1e8" opacity="0.2"/>
<rect x="600.8" y="288.5" width="2.0" height="155.5" fill="#a9d1e8" opacity="0.2"/>
<rect x="438.7" y="284.0" width="3.0" height="160.0" fill="#a9d1e8" opacity="0.2"/>
<rect x="335.4" y="280.2" width="3.0" height="163.8" fill="#a9d1e8" opacity="0.2"/>
<rect x="148.8" y="263.1" width="1.6" height="180.9" fill="#a9d1e8" opacity="0.2"/>
<rect x="558.0" y="285.8" width="1.6" height="158.2" fill="#a9d1e8" opacity="0.2"/>
<rect x="503.1" y="294.6" width="2.0" height="149.4" fill="#a9d1e8" opacity="0.2"/>
<rect x="238.4" y="350.2" width="1.6" height="93.8" fill="#a9d1e8" opacity="0.2"/>
<rect x="193.4" y="362.4" width="1.2" height="81.6" fill="#a9d1e8" opacity="0.2"/>
<rect x="457.9" y="280.7" width="3.0" height="163.3" fill="#a9d1e8" opacity="0.2"/>
<rect x="106.4" y="267.9" width="2.4" height="176.1" fill="#a9d1e8" opacity="0.2"/>
<rect x="309.1" y="304.0" width="3.0" height="140.0" fill="#a9d1e8" opacity="0.2"/>
<rect x="418.1" y="360.2" width="2.4" height="83.8" fill="#a9d1e8" opacity="0.2"/>
<rect x="582.1" y="261.3" width="3.0" height="182.7" fill="#a9d1e8" opacity="0.2"/>
<rect x="284.6" y="264.7" width="1.2" height="179.3" fill="#a9d1e8" opacity="0.2"/>
<rect x="481.9" y="295.7" width="2.4" height="148.3" fill="#a9d1e8" opacity="0.2"/>
<rect x="528.7" y="326.3" width="2.4" height="117.7" fill="#a9d1e8" opacity="0.2"/>
<rect x="621.4" y="258.4" width="1.2" height="185.6" fill="#a9d1e8" opacity="0.2"/></g><line x1="35" y1="283.9" x2="680.5" y2="283.9" stroke="rgba(0,0,0,0.075)" stroke-width="1"/>
<line x1="35" y1="310.6" x2="680.5" y2="310.6" stroke="rgba(0,0,0,0.075)" stroke-width="1"/>
<line x1="35" y1="337.4" x2="680.5" y2="337.4" stroke="rgba(0,0,0,0.075)" stroke-width="1"/>
<line x1="35" y1="364.1" x2="680.5" y2="364.1" stroke="rgba(0,0,0,0.075)" stroke-width="1"/>
<line x1="35" y1="390.9" x2="680.5" y2="390.9" stroke="rgba(0,0,0,0.075)" stroke-width="1"/>
<line x1="35" y1="417.6" x2="680.5" y2="417.6" stroke="rgba(0,0,0,0.075)" stroke-width="1"/><line x1="35" y1="444" x2="680.5" y2="444" stroke="#e0e0e0" stroke-width="1"/><line x1="35" y1="257" x2="35" y2="446" stroke="#ececec" stroke-width="1.5"/><g clip-path="url(#cb)"><polyline points="92.9,257.5 92.9,444.0" fill="none" stroke="#2a80bb" stroke-width="1.6" stroke-linejoin="round" stroke-linecap="round" opacity="1"/><polyline points="102.0,444.0 104.0,441.0 106.0,439.0 107.6,414.2 108.7,444.0" fill="none" stroke="#2a80bb" stroke-width="1.4" stroke-linejoin="round" stroke-linecap="round" opacity="1"/><polyline points="128.3,444.0 131.8,436.0 134.4,440.4 136.2,435.2 138.8,442.2 144.0,434.3 146.7,440.4 150.2,444.0" fill="none" stroke="#2a80bb" stroke-width="1.4" stroke-linejoin="round" stroke-linecap="round" opacity="1"/><polyline points="170.3,444.0 172.1,441.1 173.8,439.5 175.6,442.2 177.3,441.2 179.0,442.2 180.8,441.5 182.6,441.3 184.3,440.0 186.1,440.4 187.8,438.4 189.6,438.7 191.3,436.1 193.1,435.1 194.8,431.7 196.6,434.6 198.3,436.0 200.1,435.0 201.8,431.8 203.6,430.8 205.3,429.3 207.0,427.7 208.8,431.2 209.6,428.5 211.4,435.2 213.4,432.7 215.5,430.5 217.5,429.4 219.3,427.5 221.0,426.9 222.8,426.8 224.5,427.0 226.3,425.9 228.0,425.0 229.8,424.1 231.5,422.4 233.2,420.7 235.0,420.2 236.8,420.1 238.5,418.9 240.1,421.1 241.7,423.0 243.3,424.7 245.0,424.2 246.6,427.2 248.2,428.5 250.3,428.1 252.5,426.8 254.2,426.4 256.0,425.9 257.8,426.1 259.5,427.8 261.3,428.9 263.1,426.9 264.8,428.1 266.6,426.9 268.3,425.0 270.1,423.9 271.8,422.0 273.6,422.3 275.3,420.2 277.1,419.8 278.8,418.4 280.6,416.3 283.2,418.0 285.2,417.6 287.1,416.9 289.1,417.0 291.1,416.3 292.8,416.7 294.6,416.6 296.3,418.0 298.1,418.4 299.8,420.5 301.6,420.6 303.4,418.7 305.1,418.0 306.9,418.8 308.6,417.7 310.3,417.2 312.1,418.0 313.8,418.0 315.6,417.3 317.5,416.3 319.3,417.3 321.1,415.4 323.3,415.8 325.5,417.7 327.2,417.2 329.0,417.1 331.2,418.5 333.4,421.5 335.4,420.7 337.5,418.6 339.5,418.0 341.2,417.9 343.0,419.1 344.8,418.2 346.5,419.1 348.2,420.2 350.0,419.4 351.6,417.8 353.3,417.1 354.9,417.0 356.5,417.8 358.1,416.8 359.8,415.3 361.4,415.4 363.6,417.2 365.8,419.8 367.4,418.2 369.1,418.1 370.7,416.2 372.3,417.1 373.9,416.8 375.6,416.2 377.2,414.2 379.2,415.8 381.3,417.3 383.3,417.1 385.5,418.5 387.7,422.4 389.7,422.7 391.6,425.4 393.6,425.7 395.6,425.9 397.4,425.3 399.1,426.3 400.9,425.1 402.6,425.2 404.4,423.4 406.1,423.6 408.2,423.9 410.4,425.9 412.5,426.5 414.5,426.5 416.6,428.2 418.4,427.6 420.1,428.9 421.9,426.9 423.6,427.1 425.2,426.1 426.9,426.4 428.5,427.0 430.1,428.9 431.7,428.0 433.4,428.1 435.0,428.9 436.6,428.5 438.2,431.4 439.9,430.6 441.5,430.6 443.1,432.0 444.7,430.5 446.3,430.1 448.0,430.1 449.6,431.1 451.2,429.3 452.8,429.9 454.5,428.1 456.3,428.7 458.0,428.2 460.2,428.7 462.4,430.6 464.0,431.3 465.7,428.4 467.3,428.9 468.9,429.0 470.6,427.4 472.2,428.3 473.9,426.4 475.5,425.9 477.2,425.1 479.0,425.4 480.8,424.3 482.5,425.4 484.2,424.7 486.0,423.7 487.8,424.9 489.5,424.3 491.2,422.9 493.0,422.4 494.8,421.2 496.5,421.8 498.3,421.7 500.1,421.6 501.8,421.7 503.6,422.4 505.3,424.4 507.1,423.6 508.8,424.4 510.6,427.8 512.3,427.7 514.0,427.1 515.8,427.4 517.5,425.0 519.3,425.5 521.0,424.1 522.8,422.9 524.6,423.9 526.3,424.1 528.1,423.7 529.8,422.9 531.6,424.2 533.4,423.0 535.1,424.3 536.9,423.9 538.6,422.4 540.4,424.4 542.1,424.2 544.1,423.0 546.0,423.1 548.0,422.7 550.0,421.2 551.8,421.2 553.6,421.2 555.5,420.1 557.3,419.6 559.3,420.7 561.4,421.5 563.4,421.7 565.4,420.6 567.5,421.8 569.5,420.2 571.3,421.5 573.0,419.4 574.8,421.8 576.5,421.9 578.3,421.3 580.0,419.8 581.8,421.1 583.5,421.9 585.3,419.6 587.0,421.5 588.8,420.4 590.5,418.6 592.3,418.6 594.0,419.2 595.6,419.6 597.3,419.5 598.9,420.1 600.6,420.6 602.2,419.6 605.3,421.7 607.0,422.1 608.7,422.7 610.4,425.2 612.2,425.8 613.9,422.9 615.7,424.7 617.4,422.2 619.2,423.5 620.9,422.9 622.7,421.7 624.3,422.4 625.9,421.2 627.6,421.8 629.2,419.7 630.8,420.2 632.4,421.1 634.1,420.8 635.7,422.7 637.4,422.9 639.0,422.7 640.8,422.0 642.6,421.5 644.4,419.6 646.1,418.9 647.9,419.8 649.7,418.8 651.5,419.2 653.3,417.6 655.0,417.9 656.7,416.7 658.4,417.2 660.1,418.3 661.8,417.7 663.5,417.6" fill="none" stroke="#2a80bb" stroke-width="1.15" stroke-linejoin="round" stroke-linecap="round" opacity="1"/><polyline points="108.4,290.8 111.6,321.8 120.6,298.2 122.2,316.9 125.5,308.7 128.4,337.6 135.0,328.0 145.5,311.5 152.9,305.4 156.5,320.0 166.0,312.0 177.3,306.6 179.7,316.4 195.5,308.0 199.5,316.2 206.0,313.8 207.7,317.8 220.7,310.5 227.2,308.0 235.4,308.0 241.9,307.2 245.1,308.9 259.8,302.3 263.1,306.4 278.5,301.5 279.4,303.6 310.0,302.4 317.0,298.9 327.5,298.0 329.3,300.6 341.5,298.0 344.2,300.1 369.6,295.4 371.3,297.1 378.3,295.9 380.1,297.1 390.0,295.4 404.0,293.6 406.6,295.9 421.5,293.1 428.5,293.6 432.0,298.4 442.5,297.1 460.0,294.5 477.6,293.6 481.1,295.4 488.0,295.4 490.7,297.1 502.1,295.4 517.3,294.9 519.0,296.3 529.5,295.4 533.0,297.1 541.8,296.6 545.3,297.1 554.0,295.9 564.5,295.9 568.0,297.1 583.8,296.0 587.3,298.0 596.1,299.8 610.1,298.4 613.6,301.2 623.4,299.9 626.9,301.0 630.4,301.6 635.0,302.8 638.6,304.0 651.4,302.8 663.7,302.8" fill="none" stroke="#58b8e1" stroke-width="1.35" stroke-linejoin="round" stroke-linecap="round" opacity="1"/><polyline points="93.7,372.0 94.5,335.0 95.3,317.0 97.0,305.5 98.6,300.6 101.0,294.0 104.3,290.0 108.4,287.6 114.0,284.3 116.5,285.1 118.1,307.1 127.0,305.5 131.0,303.6 138.2,302.4 151.6,301.0 165.0,299.5 180.0,305.6 196.3,300.7 200.4,303.2 202.8,307.2 212.6,307.2 220.7,308.9 232.1,311.3 241.9,312.1 245.1,308.9 253.3,306.4 261.4,307.2 266.3,305.6 275.0,305.9 285.5,307.7 292.5,304.2 310.0,303.3 345.0,302.4 380.1,300.6 390.0,301.5 397.0,301.5 402.3,305.0 425.0,305.0 428.5,306.8 463.6,305.0 470.6,310.3 484.6,309.4 488.0,311.7 505.0,310.0 526.0,311.2 531.3,312.0 538.3,313.8 545.3,315.9 550.5,314.7 575.0,312.9 600.0,311.0 643.2,309.8 645.0,311.0 663.7,310.4" fill="none" stroke="#e9927a" stroke-width="1.35" stroke-linejoin="round" stroke-linecap="round" opacity="1"/><polyline points="93.4,258.0 95.2,263.2 97.2,259.2 99.2,261.2 101.2,259.2 103.3,262.2 105.6,266.0 108.4,265.3 112.4,264.3 116.5,263.2 123.2,261.5 124.6,281.6 127.2,283.4 127.8,298.7 138.2,288.3 140.2,312.7 149.3,304.5 150.9,311.0 160.5,303.0 177.4,296.9 178.9,307.6 190.0,302.5 195.0,301.7 201.2,298.3 203.6,302.3 206.9,300.7 210.1,304.0 213.4,302.7 215.0,306.4 224.0,303.6 225.6,308.9 241.9,302.3 244.3,308.9 253.3,306.4 254.9,311.3 268.0,307.2 269.6,310.5 275.0,307.7 285.5,305.0 287.3,307.7 301.3,304.2 308.3,305.0 310.9,309.4 317.0,308.5 317.9,310.3 341.5,305.0 348.6,311.2 360.8,310.3 362.6,312.0 387.0,305.9 390.6,308.2 395.3,308.9 399.6,312.9 421.5,310.3 425.0,310.6 428.5,313.8 435.5,315.5 456.5,311.7 460.0,312.9 468.8,310.6 488.0,308.5 502.0,306.4 505.6,308.2 513.8,307.7 515.5,309.4 527.8,306.8 531.3,309.4 541.8,307.7 543.5,308.9 554.0,307.7 573.3,305.0 575.0,306.8 592.6,304.2 596.1,305.4 625.0,302.9 663.7,300.4" fill="none" stroke="#c86a55" stroke-width="1.35" stroke-linejoin="round" stroke-linecap="round" opacity="1"/></g><circle cx="663.7" cy="302.8" r="1.9" fill="#58b8e1"/><circle cx="663.7" cy="300.4" r="1.9" fill="#c86a55"/><circle cx="663.7" cy="310.4" r="1.9" fill="#e9927a"/><circle cx="663.5" cy="417.6" r="1.9" fill="#2a80bb"/><text transform="translate(19.10,24.30) scale(0.93,1)" text-anchor="middle" font-family="Liberation Sans" font-size="15" fill="#333333" stroke="#333333" stroke-width="0.45">24.8</text><text transform="translate(19.10,38.74) scale(0.93,1)" text-anchor="middle" font-family="Liberation Sans" font-size="15" fill="#333333" stroke="#333333" stroke-width="0.45">24.6</text><text transform="translate(19.10,53.18) scale(0.93,1)" text-anchor="middle" font-family="Liberation Sans" font-size="15" fill="#333333" stroke="#333333" stroke-width="0.45">24.4</text><text transform="translate(19.10,67.62) scale(0.93,1)" text-anchor="middle" font-family="Liberation Sans" font-size="15" fill="#333333" stroke="#333333" stroke-width="0.45">24.2</text><text transform="translate(19.10,82.06) scale(0.93,1)" text-anchor="middle" font-family="Liberation Sans" font-size="15" fill="#333333" stroke="#333333" stroke-width="0.45">24.0</text><text transform="translate(19.10,96.50) scale(0.93,1)" text-anchor="middle" font-family="Liberation Sans" font-size="15" fill="#333333" stroke="#333333" stroke-width="0.45">23.8</text><text transform="translate(19.10,110.94) scale(0.93,1)" text-anchor="middle" font-family="Liberation Sans" font-size="15" fill="#333333" stroke="#333333" stroke-width="0.45">23.6</text><text transform="translate(19.10,125.38) scale(0.93,1)" text-anchor="middle" font-family="Liberation Sans" font-size="15" fill="#333333" stroke="#333333" stroke-width="0.45">23.4</text><text transform="translate(19.10,139.82) scale(0.93,1)" text-anchor="middle" font-family="Liberation Sans" font-size="15" fill="#333333" stroke="#333333" stroke-width="0.45">23.2</text><text transform="translate(19.10,154.26) scale(0.93,1)" text-anchor="middle" font-family="Liberation Sans" font-size="15" fill="#333333" stroke="#333333" stroke-width="0.45">23.0</text><text transform="translate(19.10,168.70) scale(0.93,1)" text-anchor="middle" font-family="Liberation Sans" font-size="15" fill="#333333" stroke="#333333" stroke-width="0.45">22.8</text><text transform="translate(19.10,183.14) scale(0.93,1)" text-anchor="middle" font-family="Liberation Sans" font-size="15" fill="#333333" stroke="#333333" stroke-width="0.45">22.6</text><text transform="translate(19.10,290.00) scale(0.93,1)" text-anchor="middle" font-family="Liberation Sans" font-size="15" fill="#333333" stroke="#333333" stroke-width="0.45">24</text><text transform="translate(19.10,316.92) scale(0.93,1)" text-anchor="middle" font-family="Liberation Sans" font-size="15" fill="#333333" stroke="#333333" stroke-width="0.45">23.5</text><text transform="translate(19.10,343.84) scale(0.93,1)" text-anchor="middle" font-family="Liberation Sans" font-size="15" fill="#333333" stroke="#333333" stroke-width="0.45">23</text><text transform="translate(19.10,370.76) scale(0.93,1)" text-anchor="middle" font-family="Liberation Sans" font-size="15" fill="#333333" stroke="#333333" stroke-width="0.45">22.5</text><text transform="translate(19.10,397.68) scale(0.93,1)" text-anchor="middle" font-family="Liberation Sans" font-size="15" fill="#333333" stroke="#333333" stroke-width="0.45">22</text><text transform="translate(19.10,424.60) scale(0.93,1)" text-anchor="middle" font-family="Liberation Sans" font-size="15" fill="#333333" stroke="#333333" stroke-width="0.45">21.5</text><text transform="translate(94.00,208.50) scale(0.9,1)" text-anchor="middle" font-family="Liberation Sans" font-size="16.5" fill="#333333" stroke="#333333" stroke-width="0.45">0</text><text transform="translate(94.00,459.30) scale(0.9,1)" text-anchor="middle" font-family="Liberation Sans" font-size="16.5" fill="#333333" stroke="#333333" stroke-width="0.45">0</text><text transform="translate(151.46,208.50) scale(0.9,1)" text-anchor="middle" font-family="Liberation Sans" font-size="16.5" fill="#333333" stroke="#333333" stroke-width="0.45">100</text><text transform="translate(151.46,459.30) scale(0.9,1)" text-anchor="middle" font-family="Liberation Sans" font-size="16.5" fill="#333333" stroke="#333333" stroke-width="0.45">100</text><text transform="translate(208.32,208.50) scale(0.9,1)" text-anchor="middle" font-family="Liberation Sans" font-size="16.5" fill="#333333" stroke="#333333" stroke-width="0.45">200</text><text transform="translate(208.32,459.30) scale(0.9,1)" text-anchor="middle" font-family="Liberation Sans" font-size="16.5" fill="#333333" stroke="#333333" stroke-width="0.45">200</text><text transform="translate(265.18,208.50) scale(0.9,1)" text-anchor="middle" font-family="Liberation Sans" font-size="16.5" fill="#333333" stroke="#333333" stroke-width="0.45">300</text><text transform="translate(265.18,459.30) scale(0.9,1)" text-anchor="middle" font-family="Liberation Sans" font-size="16.5" fill="#333333" stroke="#333333" stroke-width="0.45">300</text><text transform="translate(322.04,208.50) scale(0.9,1)" text-anchor="middle" font-family="Liberation Sans" font-size="16.5" fill="#333333" stroke="#333333" stroke-width="0.45">400</text><text transform="translate(322.04,459.30) scale(0.9,1)" text-anchor="middle" font-family="Liberation Sans" font-size="16.5" fill="#333333" stroke="#333333" stroke-width="0.45">400</text><text transform="translate(378.90,208.50) scale(0.9,1)" text-anchor="middle" font-family="Liberation Sans" font-size="16.5" fill="#333333" stroke="#333333" stroke-width="0.45">500</text><text transform="translate(378.90,459.30) scale(0.9,1)" text-anchor="middle" font-family="Liberation Sans" font-size="16.5" fill="#333333" stroke="#333333" stroke-width="0.45">500</text><text transform="translate(435.76,208.50) scale(0.9,1)" text-anchor="middle" font-family="Liberation Sans" font-size="16.5" fill="#333333" stroke="#333333" stroke-width="0.45">600</text><text transform="translate(435.76,459.30) scale(0.9,1)" text-anchor="middle" font-family="Liberation Sans" font-size="16.5" fill="#333333" stroke="#333333" stroke-width="0.45">600</text><text transform="translate(492.62,208.50) scale(0.9,1)" text-anchor="middle" font-family="Liberation Sans" font-size="16.5" fill="#333333" stroke="#333333" stroke-width="0.45">700</text><text transform="translate(492.62,459.30) scale(0.9,1)" text-anchor="middle" font-family="Liberation Sans" font-size="16.5" fill="#333333" stroke="#333333" stroke-width="0.45">700</text><text transform="translate(549.48,208.50) scale(0.9,1)" text-anchor="middle" font-family="Liberation Sans" font-size="16.5" fill="#333333" stroke="#333333" stroke-width="0.45">800</text><text transform="translate(549.48,459.30) scale(0.9,1)" text-anchor="middle" font-family="Liberation Sans" font-size="16.5" fill="#333333" stroke="#333333" stroke-width="0.45">800</text><text transform="translate(606.34,208.50) scale(0.9,1)" text-anchor="middle" font-family="Liberation Sans" font-size="16.5" fill="#333333" stroke="#333333" stroke-width="0.45">900</text><text transform="translate(606.34,459.30) scale(0.9,1)" text-anchor="middle" font-family="Liberation Sans" font-size="16.5" fill="#333333" stroke="#333333" stroke-width="0.45">900</text><text transform="translate(661.90,208.50) scale(0.9,1)" text-anchor="middle" font-family="Liberation Sans" font-size="16.5" fill="#333333" stroke="#333333" stroke-width="0.45">1k</text><text transform="translate(661.90,459.30) scale(0.9,1)" text-anchor="middle" font-family="Liberation Sans" font-size="16.5" fill="#333333" stroke="#333333" stroke-width="0.45">1k</text><text x="378.8" y="233.8" text-anchor="middle" font-family="Liberation Serif" font-size="22" fill="#1a1a1a" stroke="#1a1a1a" stroke-width="0.45">(a) Episode length</text><text x="378.3" y="483.4" text-anchor="middle" font-family="Liberation Serif" font-size="22" fill="#1a1a1a" stroke="#1a1a1a" stroke-width="0.45">(b) Cumulated reward</text><circle cx="524.8" cy="91.2" r="7.4" fill="#f96b4a"/>
<text x="540.7" y="95.3" font-family="Liberation Serif" font-size="14" fill="#262626" stroke="#262626" stroke-width="0.35">Risk-fused DDQN</text>
<circle cx="524.8" cy="111.9" r="7.4" fill="#0a70b6"/>
<text x="540.7" y="116.0" font-family="Liberation Serif" font-size="14" fill="#262626" stroke="#262626" stroke-width="0.35">DQN</text>
<circle cx="524.8" cy="132.6" r="7.4" fill="#d93a2a"/>
<text x="540.7" y="136.7" font-family="Liberation Serif" font-size="14" fill="#262626" stroke="#262626" stroke-width="0.35">DDQN</text>
<circle cx="524.8" cy="153.3" r="7.4" fill="#19b2e6"/>
<text x="540.7" y="157.4" font-family="Liberation Serif" font-size="14" fill="#262626" stroke="#262626" stroke-width="0.35">Dueling DQN</text><circle cx="524.8" cy="339.3" r="7.4" fill="#f96b4a"/>
<text x="540.7" y="343.4" font-family="Liberation Serif" font-size="14" fill="#262626" stroke="#262626" stroke-width="0.35">Risk-fused DDQN</text>
<circle cx="524.8" cy="360.0" r="7.4" fill="#0a70b6"/>
<text x="540.7" y="364.1" font-family="Liberation Serif" font-size="14" fill="#262626" stroke="#262626" stroke-width="0.35">DQN</text>
<circle cx="524.8" cy="380.7" r="7.4" fill="#d93a2a"/>
<text x="540.7" y="384.8" font-family="Liberation Serif" font-size="14" fill="#262626" stroke="#262626" stroke-width="0.35">DDQN</text>
<circle cx="524.8" cy="401.4" r="7.4" fill="#19b2e6"/>
<text x="540.7" y="405.5" font-family="Liberation Serif" font-size="14" fill="#262626" stroke="#262626" stroke-width="0.35">Dueling DQN</text></svg>
</body></html>
